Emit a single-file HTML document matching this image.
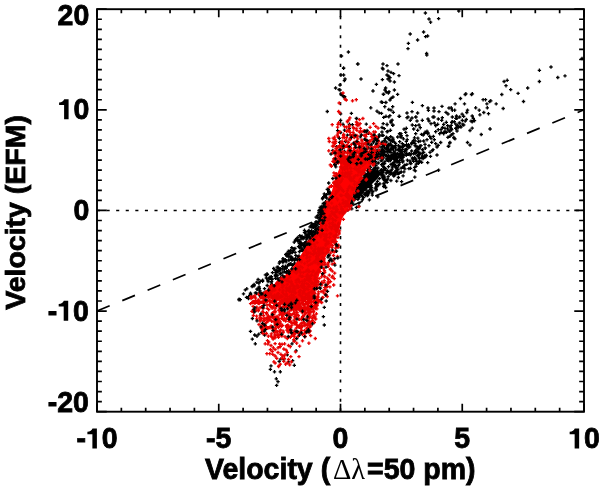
<!DOCTYPE html>
<html><head><meta charset="utf-8"><style>
html,body{margin:0;padding:0;background:#fff;width:600px;height:488px;overflow:hidden}
svg{display:block;will-change:transform}
text{font-family:"Liberation Sans",sans-serif;font-weight:bold;fill:#000;stroke:#000;stroke-width:0.8px}
</style></head><body>
<svg width="600" height="488" viewBox="0 0 600 488">
<rect width="600" height="488" fill="#fff"/>
<line x1="97.0" y1="311.07" x2="584.0" y2="109.83" stroke="#000" stroke-width="1.7" stroke-dasharray="13.7 13.67"/>
<line x1="97.0" y1="210.45" x2="584.0" y2="210.45" stroke="#000" stroke-width="1.6" stroke-dasharray="3.1 6.477"/>
<line x1="340.50" y1="411.7" x2="340.50" y2="9.2" stroke="#000" stroke-width="1.6" stroke-dasharray="3.1 6.465" stroke-dashoffset="-0.4"/>
<path d="M351.0 203.0L353.0 196.0L357.0 186.0L362.0 178.0L368.0 172.0L376.0 170.0L382.0 172.0L378.0 178.0L371.0 185.0L362.0 194.0L355.0 199.0Z" fill="#000"/>
<path d="M423.7 13.0h3.4M425.4 11.3v3.4M427.3 19.0h3.4M429.0 17.3v3.4M428.9 22.2h3.4M430.6 20.5v3.4M436.9 18.6h3.4M438.6 16.9v3.4M408.5 34.0h3.4M410.2 32.3v3.4M421.9 32.0h3.4M423.6 30.3v3.4M423.9 36.6h3.4M425.6 34.9v3.4M425.9 36.0h3.4M427.6 34.3v3.4M415.9 40.0h3.4M417.6 38.3v3.4M406.7 43.4h3.4M408.4 41.7v3.4M406.3 48.6h3.4M408.0 46.9v3.4M424.9 53.4h3.4M426.6 51.7v3.4M425.1 55.0h3.4M426.8 53.3v3.4M346.7 52.0h3.4M348.4 50.3v3.4M339.8 56.0h3.4M341.5 54.3v3.4M356.3 64.0h3.4M358.0 62.3v3.4M381.3 64.0h3.4M383.0 62.3v3.4M385.3 65.6h3.4M387.0 63.9v3.4M380.7 68.2h3.4M382.4 66.5v3.4M396.3 64.0h3.4M398.0 62.3v3.4M341.9 68.0h3.4M343.6 66.3v3.4M457.1 11.0h3.4M458.8 9.3v3.4M341.9 68.4h3.4M343.6 66.7v3.4M355.9 64.0h3.4M357.6 62.3v3.4M339.3 75.0h3.4M341.0 73.3v3.4M341.9 75.0h3.4M343.6 73.3v3.4M343.3 79.0h3.4M345.0 77.3v3.4M342.7 80.6h3.4M344.4 78.9v3.4M359.3 79.0h3.4M361.0 77.3v3.4M338.3 85.0h3.4M340.0 83.3v3.4M333.9 88.0h3.4M335.6 86.3v3.4M337.3 89.6h3.4M339.0 87.9v3.4M339.3 94.0h3.4M341.0 92.3v3.4M340.7 95.6h3.4M342.4 93.9v3.4M342.7 97.6h3.4M344.4 95.9v3.4M371.3 91.0h3.4M373.0 89.3v3.4M374.7 84.4h3.4M376.4 82.7v3.4M381.3 69.0h3.4M383.0 67.3v3.4M386.3 71.0h3.4M388.0 69.3v3.4M389.3 72.4h3.4M391.0 70.7v3.4M391.9 73.6h3.4M393.6 71.9v3.4M385.3 75.0h3.4M387.0 73.3v3.4M387.3 76.4h3.4M389.0 74.7v3.4M388.3 77.6h3.4M390.0 75.9v3.4M386.3 79.0h3.4M388.0 77.3v3.4M397.3 75.6h3.4M399.0 73.9v3.4M380.7 79.6h3.4M382.4 77.9v3.4M388.3 81.0h3.4M390.0 79.3v3.4M392.7 82.0h3.4M394.4 80.3v3.4M383.9 88.0h3.4M385.6 86.3v3.4M383.3 90.0h3.4M385.0 88.3v3.4M387.3 91.6h3.4M389.0 89.9v3.4M386.7 93.0h3.4M388.4 91.3v3.4M392.7 90.0h3.4M394.4 88.3v3.4M395.9 94.4h3.4M397.6 92.7v3.4M381.9 94.4h3.4M383.6 92.7v3.4M391.3 97.0h3.4M393.0 95.3v3.4M389.3 98.4h3.4M391.0 96.7v3.4M388.3 100.0h3.4M390.0 98.3v3.4M380.7 102.4h3.4M382.4 100.7v3.4M384.3 102.4h3.4M386.0 100.7v3.4M410.7 102.4h3.4M412.4 100.7v3.4M420.7 105.6h3.4M422.4 103.9v3.4M426.3 108.0h3.4M428.0 106.3v3.4M426.7 110.4h3.4M428.4 108.7v3.4M432.3 108.0h3.4M434.0 106.3v3.4M432.3 111.0h3.4M434.0 109.3v3.4M440.3 106.4h3.4M442.0 104.7v3.4M447.3 108.0h3.4M449.0 106.3v3.4M405.3 113.0h3.4M407.0 111.3v3.4M410.3 111.6h3.4M412.0 109.9v3.4M415.9 113.0h3.4M417.6 111.3v3.4M437.3 111.6h3.4M439.0 109.9v3.4M444.3 112.4h3.4M446.0 110.7v3.4M446.3 114.0h3.4M448.0 112.3v3.4M406.3 117.0h3.4M408.0 115.3v3.4M410.3 118.0h3.4M412.0 116.3v3.4M414.3 117.0h3.4M416.0 115.3v3.4M426.3 119.0h3.4M428.0 117.3v3.4M432.3 117.0h3.4M434.0 115.3v3.4M549.3 67.0h3.4M551.0 65.3v3.4M537.7 70.3h3.4M539.4 68.6v3.4M556.1 77.5h3.4M557.8 75.8v3.4M563.3 75.9h3.4M565.0 74.2v3.4M537.7 81.5h3.4M539.4 79.8v3.4M502.4 81.5h3.4M504.1 79.8v3.4M505.5 80.3h3.4M507.2 78.6v3.4M504.3 85.7h3.4M506.0 84.0v3.4M509.0 89.6h3.4M510.7 87.9v3.4M526.0 88.0h3.4M527.7 86.3v3.4M516.4 93.4h3.4M518.1 91.7v3.4M500.1 94.5h3.4M501.8 92.8v3.4M521.8 101.5h3.4M523.5 99.8v3.4M501.5 108.5h3.4M503.2 106.8v3.4M494.5 103.9h3.4M496.2 102.2v3.4M489.1 100.8h3.4M490.8 99.1v3.4M488.0 101.5h3.4M489.7 99.8v3.4M481.4 99.7h3.4M483.1 98.0v3.4M483.8 99.7h3.4M485.5 98.0v3.4M485.2 103.9h3.4M486.9 102.2v3.4M485.6 107.8h3.4M487.3 106.1v3.4M486.8 113.7h3.4M488.5 112.0v3.4M482.1 112.5h3.4M483.8 110.8v3.4M477.5 110.2h3.4M479.2 108.5v3.4M478.2 114.8h3.4M479.9 113.1v3.4M474.0 107.8h3.4M475.7 106.1v3.4M469.8 94.5h3.4M471.5 92.8v3.4M470.7 93.8h3.4M472.4 92.1v3.4M463.5 94.5h3.4M465.2 92.8v3.4M464.2 93.8h3.4M465.9 92.1v3.4M458.8 98.5h3.4M460.5 96.8v3.4M462.8 103.9h3.4M464.5 102.2v3.4M453.4 103.9h3.4M455.1 102.2v3.4M449.5 107.8h3.4M451.2 106.1v3.4M453.0 110.2h3.4M454.7 108.5v3.4M450.6 110.2h3.4M452.3 108.5v3.4M460.4 114.1h3.4M462.1 112.4v3.4M465.8 110.2h3.4M467.5 108.5v3.4M465.1 112.5h3.4M466.8 110.8v3.4M454.8 116.0h3.4M456.5 114.3v3.4M454.1 118.3h3.4M455.8 116.6v3.4M470.5 116.0h3.4M472.2 114.3v3.4M471.6 118.3h3.4M473.3 116.6v3.4M472.8 120.7h3.4M474.5 119.0v3.4M469.3 121.1h3.4M471.0 119.4v3.4M470.5 121.8h3.4M472.2 120.1v3.4M464.6 119.5h3.4M466.3 117.8v3.4M463.5 121.1h3.4M465.2 119.4v3.4M457.6 123.0h3.4M459.3 121.3v3.4M461.1 124.2h3.4M462.8 122.5v3.4M458.8 126.5h3.4M460.5 124.8v3.4M456.5 127.7h3.4M458.2 126.0v3.4M450.6 121.8h3.4M452.3 120.1v3.4M449.5 125.3h3.4M451.2 123.6v3.4M454.1 124.2h3.4M455.8 122.5v3.4M454.8 127.7h3.4M456.5 126.0v3.4M470.5 128.1h3.4M472.2 126.4v3.4M488.4 129.1h3.4M490.1 127.4v3.4M580.3 58.5h3.4M582.0 56.8v3.4M479.6 134.5h3.4M481.2 132.8v3.4M465.8 142.5h3.4M467.5 140.8v3.4M468.3 145.0h3.4M470.0 143.3v3.4M448.3 142.5h3.4M450.0 140.8v3.4M447.1 146.2h3.4M448.8 144.6v3.4M449.6 135.0h3.4M451.2 133.3v3.4M452.1 137.5h3.4M453.8 135.8v3.4M453.3 138.8h3.4M455.0 137.1v3.4M488.3 128.8h3.4M490.0 127.0v3.4M468.3 130.5h3.4M470.0 128.8v3.4M443.3 131.2h3.4M445.0 129.6v3.4M439.6 132.5h3.4M441.2 130.8v3.4M442.1 132.5h3.4M443.8 130.8v3.4M445.8 128.8h3.4M447.5 127.0v3.4M448.3 131.2h3.4M450.0 129.6v3.4M440.8 127.5h3.4M442.5 125.8v3.4M338.3 90.0h3.4M340.0 88.3v3.4M340.3 94.2h3.4M342.0 92.5v3.4M343.0 96.7h3.4M344.7 95.0v3.4M371.3 90.8h3.4M373.0 89.1v3.4M381.6 94.2h3.4M383.3 92.5v3.4M384.6 92.0h3.4M386.3 90.3v3.4M379.6 102.0h3.4M381.3 100.3v3.4M384.1 102.5h3.4M385.8 100.8v3.4M250.7 318.5h3.4M252.4 316.8v3.4M248.8 331.4h3.4M250.5 329.7v3.4M257.1 334.1h3.4M258.8 332.4v3.4M259.9 332.3h3.4M261.6 330.6v3.4M261.8 330.4h3.4M263.5 328.7v3.4M322.6 325.0h3.4M324.3 323.3v3.4M321.7 316.6h3.4M323.4 314.9v3.4M324.5 301.0h3.4M326.2 299.3v3.4M322.6 307.4h3.4M324.3 305.7v3.4M385.3 124.3h3.4M387.0 122.6v3.4M389.3 121.0h3.4M391.0 119.3v3.4M391.3 125.0h3.4M393.0 123.3v3.4M388.6 130.3h3.4M390.3 128.6v3.4M385.3 131.7h3.4M387.0 130.0v3.4M397.3 116.3h3.4M399.0 114.6v3.4M405.3 117.7h3.4M407.0 116.0v3.4M408.6 120.3h3.4M410.3 118.6v3.4M414.0 117.0h3.4M415.7 115.3v3.4M415.3 121.0h3.4M417.0 119.3v3.4M410.6 125.0h3.4M412.3 123.3v3.4M414.0 125.7h3.4M415.7 124.0v3.4M417.3 125.0h3.4M419.0 123.3v3.4M418.6 127.7h3.4M420.3 126.0v3.4M420.6 120.3h3.4M422.3 118.6v3.4M412.0 129.0h3.4M413.7 127.3v3.4M416.0 130.3h3.4M417.7 128.6v3.4M414.0 133.7h3.4M415.7 132.0v3.4M404.6 128.3h3.4M406.3 126.6v3.4M404.0 132.3h3.4M405.7 130.6v3.4M405.3 135.7h3.4M407.0 134.0v3.4M399.3 133.7h3.4M401.0 132.0v3.4M396.0 137.0h3.4M397.7 135.3v3.4M391.3 139.7h3.4M393.0 138.0v3.4M387.3 139.7h3.4M389.0 138.0v3.4M423.3 132.3h3.4M425.0 130.6v3.4M426.0 133.7h3.4M427.7 132.0v3.4M428.0 136.3h3.4M429.7 134.6v3.4M429.3 138.3h3.4M431.0 136.6v3.4M425.3 139.7h3.4M427.0 138.0v3.4M422.0 141.0h3.4M423.7 139.3v3.4M430.0 142.3h3.4M431.7 140.6v3.4M432.6 139.7h3.4M434.3 138.0v3.4M434.0 143.7h3.4M435.7 142.0v3.4M435.3 147.0h3.4M437.0 145.3v3.4M431.3 149.7h3.4M433.0 148.0v3.4M427.3 145.7h3.4M429.0 144.0v3.4M423.3 144.3h3.4M425.0 142.6v3.4M419.3 145.7h3.4M421.0 144.0v3.4M416.0 147.0h3.4M417.7 145.3v3.4M413.3 143.7h3.4M415.0 142.0v3.4M410.0 143.0h3.4M411.7 141.3v3.4M408.0 147.0h3.4M409.7 145.3v3.4M404.6 145.7h3.4M406.3 144.0v3.4M400.6 143.7h3.4M402.3 142.0v3.4M398.0 141.7h3.4M399.7 140.0v3.4M394.0 145.7h3.4M395.7 144.0v3.4M391.3 148.3h3.4M393.0 146.6v3.4M388.6 149.7h3.4M390.3 148.0v3.4M427.3 121.0h3.4M429.0 119.3v3.4M429.3 123.7h3.4M431.0 122.0v3.4M432.6 123.0h3.4M434.3 121.3v3.4M434.0 125.7h3.4M435.7 124.0v3.4M436.6 119.0h3.4M438.3 117.3v3.4M440.6 117.7h3.4M442.3 116.0v3.4M440.0 120.3h3.4M441.7 118.6v3.4M442.0 124.3h3.4M443.7 122.6v3.4M444.6 122.3h3.4M446.3 120.6v3.4M446.0 125.7h3.4M447.7 124.0v3.4M448.6 127.0h3.4M450.3 125.3v3.4M443.3 128.3h3.4M445.0 126.6v3.4M439.3 129.7h3.4M441.0 128.0v3.4M436.6 129.7h3.4M438.3 128.0v3.4M434.0 131.7h3.4M435.7 130.0v3.4M438.0 133.7h3.4M439.7 132.0v3.4M442.0 133.7h3.4M443.7 132.0v3.4M444.6 132.3h3.4M446.3 130.6v3.4M447.3 131.0h3.4M449.0 129.3v3.4M450.0 129.7h3.4M451.7 128.0v3.4M451.3 133.7h3.4M453.0 132.0v3.4M454.0 128.3h3.4M455.7 126.6v3.4M456.0 125.7h3.4M457.7 124.0v3.4M458.0 123.0h3.4M459.7 121.3v3.4M460.6 120.3h3.4M462.3 118.6v3.4M462.0 125.0h3.4M463.7 123.3v3.4M459.3 127.0h3.4M461.0 125.3v3.4M455.3 131.0h3.4M457.0 129.3v3.4M452.6 138.3h3.4M454.3 136.6v3.4M448.0 143.0h3.4M449.7 141.3v3.4M446.6 146.3h3.4M448.3 144.6v3.4M435.3 155.0h3.4M437.0 153.3v3.4M422.0 152.3h3.4M423.7 150.6v3.4M423.3 157.0h3.4M425.0 155.3v3.4M418.0 161.0h3.4M419.7 159.3v3.4M414.0 159.0h3.4M415.7 157.3v3.4M420.6 153.7h3.4M422.3 152.0v3.4M416.6 152.3h3.4M418.3 150.6v3.4M412.0 153.7h3.4M413.7 152.0v3.4M408.6 155.0h3.4M410.3 153.3v3.4M404.6 153.7h3.4M406.3 152.0v3.4M402.0 155.0h3.4M403.7 153.3v3.4M399.3 152.3h3.4M401.0 150.6v3.4M396.6 155.0h3.4M398.3 153.3v3.4M394.0 156.3h3.4M395.7 154.6v3.4M391.3 157.7h3.4M393.0 156.0v3.4M388.6 159.0h3.4M390.3 157.3v3.4M386.0 160.3h3.4M387.7 158.6v3.4M396.6 149.7h3.4M398.3 148.0v3.4M400.6 149.7h3.4M402.3 148.0v3.4M404.6 149.7h3.4M406.3 148.0v3.4M410.0 151.0h3.4M411.7 149.3v3.4M414.0 150.3h3.4M415.7 148.6v3.4M431.3 117.0h3.4M433.0 115.3v3.4M436.0 124.3h3.4M437.7 122.6v3.4M450.6 117.0h3.4M452.3 115.3v3.4M455.3 118.3h3.4M457.0 116.6v3.4M458.0 117.0h3.4M459.7 115.3v3.4M462.0 116.3h3.4M463.7 114.6v3.4M450.0 122.3h3.4M451.7 120.6v3.4M452.6 121.7h3.4M454.3 120.0v3.4M250.6 339.1h3.4M252.3 337.4v3.4M253.6 343.8h3.4M255.3 342.1v3.4M255.3 336.2h3.4M257.0 334.5v3.4M253.0 335.0h3.4M254.7 333.3v3.4M262.9 335.0h3.4M264.6 333.3v3.4M295.0 338.5h3.4M296.7 336.8v3.4M292.6 340.8h3.4M294.3 339.1v3.4M290.3 343.8h3.4M292.0 342.1v3.4M294.4 350.8h3.4M296.1 349.1v3.4M285.6 354.8h3.4M287.3 353.1v3.4M282.1 359.5h3.4M283.8 357.8v3.4M279.2 358.9h3.4M280.9 357.2v3.4M277.5 361.3h3.4M279.2 359.6v3.4M286.8 361.8h3.4M288.5 360.1v3.4M290.9 360.7h3.4M292.6 359.0v3.4M292.6 365.3h3.4M294.3 363.6v3.4M269.3 365.9h3.4M271.0 364.2v3.4M268.7 369.4h3.4M270.4 367.7v3.4M272.8 371.8h3.4M274.5 370.1v3.4M278.6 371.8h3.4M280.3 370.1v3.4M274.6 378.8h3.4M276.3 377.1v3.4M276.3 381.7h3.4M278.0 380.0v3.4M274.9 385.4h3.4M276.6 383.7v3.4M369.1 107.8h3.4M370.8 106.1v3.4M375.3 111.2h3.4M377.0 109.5v3.4M377.5 112.9h3.4M379.2 111.2v3.4M379.8 113.4h3.4M381.5 111.7v3.4M383.1 106.7h3.4M384.8 105.0v3.4M387.1 109.5h3.4M388.8 107.8v3.4M389.3 110.1h3.4M391.0 108.4v3.4M391.0 106.7h3.4M392.7 105.0v3.4M391.6 112.3h3.4M393.3 110.6v3.4M382.0 117.4h3.4M383.7 115.7v3.4M384.3 116.3h3.4M386.0 114.6v3.4M387.1 116.8h3.4M388.8 115.1v3.4M388.2 115.7h3.4M389.9 114.0v3.4M397.8 116.3h3.4M399.5 114.6v3.4M390.5 120.2h3.4M392.2 118.5v3.4M389.3 122.5h3.4M391.0 120.8v3.4M381.5 123.6h3.4M383.2 121.9v3.4M385.4 124.7h3.4M387.1 123.0v3.4M391.0 125.3h3.4M392.7 123.6v3.4M380.3 127.5h3.4M382.0 125.8v3.4M382.6 128.6h3.4M384.3 126.9v3.4M388.8 130.3h3.4M390.5 128.6v3.4M386.0 131.5h3.4M387.7 129.8v3.4M380.3 132.0h3.4M382.0 130.3v3.4M381.5 135.4h3.4M383.2 133.7v3.4M384.8 137.1h3.4M386.5 135.4v3.4M387.1 138.8h3.4M388.8 137.1v3.4M390.5 141.0h3.4M392.2 139.3v3.4M392.7 142.2h3.4M394.4 140.5v3.4M397.8 133.7h3.4M399.5 132.0v3.4M399.5 137.1h3.4M401.2 135.4v3.4M402.3 129.2h3.4M404.0 127.5v3.4M401.7 138.8h3.4M403.4 137.1v3.4M355.0 118.5h3.4M356.7 116.8v3.4M364.6 124.1h3.4M366.3 122.4v3.4M366.8 133.2h3.4M368.5 131.5v3.4M373.0 138.2h3.4M374.7 136.5v3.4M375.8 138.8h3.4M377.5 137.1v3.4M371.9 142.2h3.4M373.6 140.5v3.4M374.7 144.4h3.4M376.4 142.7v3.4M376.9 146.7h3.4M378.6 145.0v3.4M369.1 145.5h3.4M370.8 143.8v3.4M366.8 147.8h3.4M368.5 146.1v3.4M364.6 149.5h3.4M366.3 147.8v3.4M361.7 151.2h3.4M363.4 149.5v3.4M358.9 150.0h3.4M360.6 148.3v3.4M380.3 142.2h3.4M382.0 140.5v3.4M382.6 145.5h3.4M384.3 143.8v3.4M384.8 147.8h3.4M386.5 146.1v3.4M387.1 150.0h3.4M388.8 148.3v3.4M389.3 152.3h3.4M391.0 150.6v3.4M392.7 154.5h3.4M394.4 152.8v3.4M396.1 153.4h3.4M397.8 151.7v3.4M398.3 150.0h3.4M400.0 148.3v3.4M400.6 147.8h3.4M402.3 146.1v3.4M402.8 145.5h3.4M404.5 143.8v3.4M393.8 147.8h3.4M395.5 146.1v3.4M391.6 146.7h3.4M393.3 145.0v3.4M381.5 152.3h3.4M383.2 150.6v3.4M383.7 155.7h3.4M385.4 154.0v3.4M379.2 154.5h3.4M380.9 152.8v3.4M375.8 154.5h3.4M377.5 152.8v3.4M372.4 153.4h3.4M374.1 151.7v3.4M370.2 152.3h3.4M371.9 150.6v3.4M367.9 155.7h3.4M369.6 154.0v3.4M364.6 156.8h3.4M366.3 155.1v3.4M400.6 154.5h3.4M402.3 152.8v3.4M398.3 157.9h3.4M400.0 156.2v3.4M393.8 157.9h3.4M395.5 156.2v3.4M387.1 156.8h3.4M388.8 155.1v3.4M384.8 159.1h3.4M386.5 157.4v3.4M325.6 111.5h3.4M327.3 109.8v3.4M338.9 113.9h3.4M340.6 112.2v3.4M349.7 113.4h3.4M351.4 111.7v3.4M354.6 118.4h3.4M356.3 116.7v3.4M338.9 120.3h3.4M340.6 118.6v3.4M341.3 124.3h3.4M343.0 122.6v3.4M347.7 124.3h3.4M349.4 122.6v3.4M350.7 124.7h3.4M352.4 123.0v3.4M342.8 130.2h3.4M344.5 128.5v3.4M335.9 130.6h3.4M337.6 128.9v3.4M338.9 132.6h3.4M340.6 130.9v3.4M345.7 135.1h3.4M347.4 133.4v3.4M337.9 142.4h3.4M339.6 140.7v3.4M343.8 141.5h3.4M345.5 139.8v3.4M346.7 142.4h3.4M348.4 140.7v3.4M338.9 146.4h3.4M340.6 144.7v3.4M340.8 148.3h3.4M342.5 146.6v3.4M339.8 152.3h3.4M341.5 150.6v3.4M337.9 154.2h3.4M339.6 152.5v3.4M342.8 151.3h3.4M344.5 149.6v3.4M347.7 149.3h3.4M349.4 147.6v3.4M348.7 134.6h3.4M350.4 132.9v3.4M347.7 128.7h3.4M349.4 127.0v3.4M359.2 187.8h3.4M360.9 186.1v3.4M366.2 170.9h3.4M367.9 169.2v3.4M381.8 169.4h3.4M383.5 167.7v3.4M364.2 179.3h3.4M365.9 177.6v3.4M385.2 149.3h3.4M386.9 147.6v3.4M381.7 157.8h3.4M383.4 156.1v3.4M386.1 179.2h3.4M387.8 177.5v3.4M384.5 173.2h3.4M386.2 171.5v3.4M361.3 190.1h3.4M363.0 188.4v3.4M356.2 199.4h3.4M357.9 197.7v3.4M372.7 156.0h3.4M374.4 154.3v3.4M397.8 162.3h3.4M399.5 160.6v3.4M388.6 160.6h3.4M390.3 158.9v3.4M385.5 170.5h3.4M387.2 168.8v3.4M393.9 159.3h3.4M395.6 157.6v3.4M374.3 190.1h3.4M376.0 188.4v3.4M368.3 187.7h3.4M370.0 186.0v3.4M352.3 193.8h3.4M354.0 192.1v3.4M414.2 146.1h3.4M415.9 144.4v3.4M393.2 159.7h3.4M394.9 158.0v3.4M379.2 160.9h3.4M380.9 159.2v3.4M360.6 199.8h3.4M362.3 198.1v3.4M399.9 152.7h3.4M401.6 151.0v3.4M356.2 166.2h3.4M357.9 164.5v3.4M373.3 172.8h3.4M375.0 171.1v3.4M381.8 179.2h3.4M383.5 177.5v3.4M372.9 153.4h3.4M374.6 151.7v3.4M387.0 146.0h3.4M388.7 144.3v3.4M370.3 179.1h3.4M372.0 177.4v3.4M393.2 171.8h3.4M394.9 170.1v3.4M371.4 179.8h3.4M373.1 178.1v3.4M386.6 155.1h3.4M388.3 153.4v3.4M408.3 161.0h3.4M410.0 159.3v3.4M386.0 158.3h3.4M387.7 156.6v3.4M356.8 197.1h3.4M358.5 195.4v3.4M391.6 173.7h3.4M393.3 172.0v3.4M386.2 158.8h3.4M387.9 157.1v3.4M386.8 166.7h3.4M388.5 165.0v3.4M392.3 159.3h3.4M394.0 157.6v3.4M420.0 162.3h3.4M421.7 160.6v3.4M376.6 162.9h3.4M378.3 161.2v3.4M378.3 155.7h3.4M380.0 154.0v3.4M361.6 186.4h3.4M363.3 184.7v3.4M394.5 167.6h3.4M396.2 165.9v3.4M382.9 163.6h3.4M384.6 161.9v3.4M393.6 167.0h3.4M395.3 165.3v3.4M366.8 176.3h3.4M368.5 174.6v3.4M396.7 177.5h3.4M398.4 175.8v3.4M397.4 173.3h3.4M399.1 171.6v3.4M355.4 192.9h3.4M357.1 191.2v3.4M412.9 157.6h3.4M414.6 155.9v3.4M419.9 157.9h3.4M421.6 156.2v3.4M361.8 197.7h3.4M363.5 196.0v3.4M355.7 187.4h3.4M357.4 185.7v3.4M393.2 152.9h3.4M394.9 151.2v3.4M367.2 179.5h3.4M368.9 177.8v3.4M395.1 157.0h3.4M396.8 155.3v3.4M356.1 192.4h3.4M357.8 190.7v3.4M342.0 193.6h3.4M343.7 191.9v3.4M369.8 171.4h3.4M371.5 169.7v3.4M367.9 177.9h3.4M369.6 176.2v3.4M396.6 157.1h3.4M398.3 155.4v3.4M412.5 158.4h3.4M414.2 156.7v3.4M367.5 166.0h3.4M369.2 164.3v3.4M420.4 153.5h3.4M422.1 151.8v3.4M397.7 160.6h3.4M399.4 158.9v3.4M413.0 152.4h3.4M414.7 150.7v3.4M368.7 170.2h3.4M370.4 168.5v3.4M353.3 198.2h3.4M355.0 196.5v3.4M390.7 155.7h3.4M392.4 154.0v3.4M361.8 167.8h3.4M363.5 166.1v3.4M380.8 172.6h3.4M382.5 170.9v3.4M373.7 158.7h3.4M375.4 157.0v3.4M415.5 155.5h3.4M417.2 153.8v3.4M372.9 170.1h3.4M374.6 168.4v3.4M392.2 153.5h3.4M393.9 151.8v3.4M366.2 194.3h3.4M367.9 192.6v3.4M345.5 202.6h3.4M347.2 200.9v3.4M363.3 173.7h3.4M365.0 172.0v3.4M366.8 176.3h3.4M368.5 174.6v3.4M396.0 173.0h3.4M397.7 171.3v3.4M373.2 158.4h3.4M374.9 156.7v3.4M401.0 162.1h3.4M402.7 160.4v3.4M386.5 176.7h3.4M388.2 175.0v3.4M388.2 171.1h3.4M389.9 169.4v3.4M398.2 153.8h3.4M399.9 152.1v3.4M375.0 183.9h3.4M376.7 182.2v3.4M408.8 168.3h3.4M410.5 166.6v3.4M388.7 172.8h3.4M390.4 171.1v3.4M373.8 163.1h3.4M375.5 161.4v3.4M374.3 176.4h3.4M376.0 174.7v3.4M349.8 203.2h3.4M351.5 201.5v3.4M354.7 207.3h3.4M356.4 205.6v3.4M379.8 164.7h3.4M381.5 163.0v3.4M405.2 164.4h3.4M406.9 162.7v3.4M385.1 149.0h3.4M386.8 147.3v3.4M383.3 161.6h3.4M385.0 159.9v3.4M400.6 156.5h3.4M402.3 154.8v3.4M387.3 151.5h3.4M389.0 149.8v3.4M396.8 165.7h3.4M398.5 164.0v3.4M375.1 175.8h3.4M376.8 174.1v3.4M411.8 159.6h3.4M413.5 157.9v3.4M357.6 194.5h3.4M359.3 192.8v3.4M394.1 159.4h3.4M395.8 157.7v3.4M360.3 154.5h3.4M362.0 152.8v3.4M353.9 194.7h3.4M355.6 193.0v3.4M408.7 163.6h3.4M410.4 161.9v3.4M393.8 165.5h3.4M395.5 163.8v3.4M364.5 178.9h3.4M366.2 177.2v3.4M398.2 146.5h3.4M399.9 144.8v3.4M357.7 171.3h3.4M359.4 169.6v3.4M376.3 158.8h3.4M378.0 157.1v3.4M390.6 163.7h3.4M392.3 162.0v3.4M389.5 170.9h3.4M391.2 169.2v3.4M393.5 159.9h3.4M395.2 158.2v3.4M356.5 196.0h3.4M358.2 194.3v3.4M356.7 183.9h3.4M358.4 182.2v3.4M380.5 170.5h3.4M382.2 168.8v3.4M389.8 158.6h3.4M391.5 156.9v3.4M398.0 156.9h3.4M399.7 155.2v3.4M375.1 186.6h3.4M376.8 184.9v3.4M381.7 178.6h3.4M383.4 176.9v3.4M369.7 187.4h3.4M371.4 185.7v3.4M373.7 167.9h3.4M375.4 166.2v3.4M390.2 173.7h3.4M391.9 172.0v3.4M401.3 160.8h3.4M403.0 159.1v3.4M392.6 174.0h3.4M394.3 172.3v3.4M365.5 175.6h3.4M367.2 173.9v3.4M379.9 156.8h3.4M381.6 155.1v3.4M372.9 161.3h3.4M374.6 159.6v3.4M402.1 167.7h3.4M403.8 166.0v3.4M367.4 174.9h3.4M369.1 173.2v3.4M415.3 161.5h3.4M417.0 159.8v3.4M382.4 183.1h3.4M384.1 181.4v3.4M380.9 149.2h3.4M382.6 147.5v3.4M367.7 158.0h3.4M369.4 156.3v3.4M414.3 166.3h3.4M416.0 164.6v3.4M379.7 172.3h3.4M381.4 170.6v3.4M361.2 155.8h3.4M362.9 154.1v3.4M398.1 150.5h3.4M399.8 148.8v3.4M373.3 167.3h3.4M375.0 165.6v3.4M362.3 174.2h3.4M364.0 172.5v3.4M357.2 206.2h3.4M358.9 204.5v3.4M366.8 172.2h3.4M368.5 170.5v3.4M377.6 178.6h3.4M379.3 176.9v3.4M351.0 198.6h3.4M352.7 196.9v3.4M368.2 162.1h3.4M369.9 160.4v3.4M399.3 151.6h3.4M401.0 149.9v3.4M396.0 157.8h3.4M397.7 156.1v3.4M370.3 161.0h3.4M372.0 159.3v3.4M362.2 182.2h3.4M363.9 180.5v3.4M379.3 155.0h3.4M381.0 153.3v3.4M364.6 175.9h3.4M366.3 174.2v3.4M355.4 181.4h3.4M357.1 179.7v3.4M353.6 178.1h3.4M355.3 176.4v3.4M380.9 163.9h3.4M382.6 162.2v3.4M355.4 186.9h3.4M357.1 185.2v3.4M394.1 150.1h3.4M395.8 148.4v3.4M395.2 162.1h3.4M396.9 160.4v3.4M391.3 154.1h3.4M393.0 152.4v3.4M402.8 165.7h3.4M404.5 164.0v3.4M377.5 156.0h3.4M379.2 154.3v3.4M408.6 162.9h3.4M410.3 161.2v3.4M350.6 198.5h3.4M352.3 196.8v3.4M355.4 189.4h3.4M357.1 187.7v3.4M364.2 189.8h3.4M365.9 188.1v3.4M417.7 154.2h3.4M419.4 152.5v3.4M375.8 170.9h3.4M377.5 169.2v3.4M358.1 189.0h3.4M359.8 187.3v3.4M363.2 194.5h3.4M364.9 192.8v3.4M409.4 154.0h3.4M411.1 152.3v3.4M367.4 182.7h3.4M369.1 181.0v3.4M373.5 188.1h3.4M375.2 186.4v3.4M405.7 160.2h3.4M407.4 158.5v3.4M357.3 203.1h3.4M359.0 201.4v3.4M365.1 178.4h3.4M366.8 176.7v3.4M366.7 191.1h3.4M368.4 189.4v3.4M358.7 176.8h3.4M360.4 175.1v3.4M354.4 186.9h3.4M356.1 185.2v3.4M385.4 182.4h3.4M387.1 180.7v3.4M349.9 194.6h3.4M351.6 192.9v3.4M382.4 176.2h3.4M384.1 174.5v3.4M393.6 154.6h3.4M395.3 152.9v3.4M380.4 177.2h3.4M382.1 175.5v3.4M368.0 166.8h3.4M369.7 165.1v3.4M374.8 186.3h3.4M376.5 184.6v3.4M391.1 157.9h3.4M392.8 156.2v3.4M392.2 162.5h3.4M393.9 160.8v3.4M393.1 174.8h3.4M394.8 173.1v3.4M356.7 194.7h3.4M358.4 193.0v3.4M392.5 164.1h3.4M394.2 162.4v3.4M390.3 156.7h3.4M392.0 155.0v3.4M382.0 186.5h3.4M383.7 184.8v3.4M387.0 160.9h3.4M388.7 159.2v3.4M349.1 202.7h3.4M350.8 201.0v3.4M367.2 177.0h3.4M368.9 175.3v3.4M399.8 159.2h3.4M401.5 157.5v3.4M385.5 152.2h3.4M387.2 150.5v3.4M392.9 175.2h3.4M394.6 173.5v3.4M364.4 184.4h3.4M366.1 182.7v3.4M369.1 160.6h3.4M370.8 158.9v3.4M376.1 196.8h3.4M377.8 195.1v3.4M367.2 175.0h3.4M368.9 173.3v3.4M404.5 155.3h3.4M406.2 153.6v3.4M382.5 179.9h3.4M384.2 178.2v3.4M350.5 191.6h3.4M352.2 189.9v3.4M403.0 165.1h3.4M404.7 163.4v3.4M395.2 169.2h3.4M396.9 167.5v3.4M391.2 155.0h3.4M392.9 153.3v3.4M401.4 175.9h3.4M403.1 174.2v3.4M411.1 159.2h3.4M412.8 157.5v3.4M380.4 160.2h3.4M382.1 158.5v3.4M373.0 178.8h3.4M374.7 177.1v3.4M382.1 167.5h3.4M383.8 165.8v3.4M380.0 152.8h3.4M381.7 151.1v3.4M359.7 189.2h3.4M361.4 187.5v3.4M360.0 195.4h3.4M361.7 193.7v3.4M364.1 195.6h3.4M365.8 193.9v3.4M366.6 193.0h3.4M368.3 191.3v3.4M365.9 195.6h3.4M367.6 193.9v3.4M397.5 164.2h3.4M399.2 162.5v3.4M392.1 176.0h3.4M393.8 174.3v3.4M395.0 181.1h3.4M396.7 179.4v3.4M393.2 156.1h3.4M394.9 154.4v3.4M394.2 155.2h3.4M395.9 153.5v3.4M389.5 156.2h3.4M391.2 154.5v3.4M345.4 210.0h3.4M347.1 208.3v3.4M369.3 188.1h3.4M371.0 186.4v3.4M404.2 151.1h3.4M405.9 149.4v3.4M397.4 148.5h3.4M399.1 146.8v3.4M367.9 179.0h3.4M369.6 177.3v3.4M369.3 185.5h3.4M371.0 183.8v3.4M389.2 164.4h3.4M390.9 162.7v3.4M347.6 198.1h3.4M349.3 196.4v3.4M402.8 151.6h3.4M404.5 149.9v3.4M380.4 152.0h3.4M382.1 150.3v3.4M354.8 196.5h3.4M356.5 194.8v3.4M417.5 157.9h3.4M419.2 156.2v3.4M361.0 196.7h3.4M362.7 195.0v3.4M356.9 192.4h3.4M358.6 190.7v3.4M392.2 165.3h3.4M393.9 163.6v3.4M385.2 172.1h3.4M386.9 170.4v3.4M352.4 188.4h3.4M354.1 186.7v3.4M376.2 168.0h3.4M377.9 166.3v3.4M396.3 173.6h3.4M398.0 171.9v3.4M357.8 197.0h3.4M359.5 195.3v3.4M403.3 149.8h3.4M405.0 148.1v3.4M382.1 183.9h3.4M383.8 182.2v3.4M388.4 174.3h3.4M390.1 172.6v3.4M378.2 183.8h3.4M379.9 182.1v3.4M343.6 204.8h3.4M345.3 203.1v3.4M388.5 158.2h3.4M390.2 156.5v3.4M399.4 168.1h3.4M401.1 166.4v3.4M422.6 156.5h3.4M424.3 154.8v3.4M381.6 166.3h3.4M383.3 164.6v3.4M365.3 167.4h3.4M367.0 165.7v3.4M365.0 181.6h3.4M366.7 179.9v3.4M394.3 158.5h3.4M396.0 156.8v3.4M413.4 145.7h3.4M415.1 144.0v3.4M373.6 151.5h3.4M375.3 149.8v3.4M370.9 172.2h3.4M372.6 170.5v3.4M396.3 169.5h3.4M398.0 167.8v3.4M354.8 180.3h3.4M356.5 178.6v3.4M365.3 181.8h3.4M367.0 180.1v3.4M350.2 203.6h3.4M351.9 201.9v3.4M378.2 150.4h3.4M379.9 148.7v3.4M357.4 195.3h3.4M359.1 193.6v3.4M381.4 174.9h3.4M383.1 173.2v3.4M367.1 164.0h3.4M368.8 162.3v3.4M374.9 153.0h3.4M376.6 151.3v3.4M351.0 193.6h3.4M352.7 191.9v3.4M358.1 192.4h3.4M359.8 190.7v3.4M382.2 170.3h3.4M383.9 168.6v3.4M393.4 165.4h3.4M395.1 163.7v3.4M367.9 175.7h3.4M369.6 174.0v3.4M413.7 170.9h3.4M415.4 169.2v3.4M413.1 177.1h3.4M414.8 175.4v3.4M388.7 159.9h3.4M390.4 158.2v3.4M374.6 189.1h3.4M376.3 187.4v3.4M390.7 167.0h3.4M392.4 165.3v3.4M376.9 184.8h3.4M378.6 183.1v3.4M354.6 183.8h3.4M356.3 182.1v3.4M386.3 172.2h3.4M388.0 170.5v3.4M381.9 154.6h3.4M383.6 152.9v3.4M367.7 199.9h3.4M369.4 198.2v3.4M366.6 186.4h3.4M368.3 184.7v3.4M394.3 171.1h3.4M396.0 169.4v3.4M368.9 189.4h3.4M370.6 187.7v3.4M372.9 158.0h3.4M374.6 156.3v3.4M399.0 154.3h3.4M400.7 152.6v3.4M365.2 178.0h3.4M366.9 176.3v3.4M346.0 205.5h3.4M347.7 203.8v3.4M349.4 203.8h3.4M351.1 202.1v3.4M389.4 155.6h3.4M391.1 153.9v3.4M418.0 158.4h3.4M419.7 156.7v3.4M393.4 153.5h3.4M395.1 151.8v3.4M381.1 154.9h3.4M382.8 153.2v3.4M392.4 162.2h3.4M394.1 160.5v3.4M356.6 181.1h3.4M358.3 179.4v3.4M368.5 184.9h3.4M370.2 183.2v3.4M393.3 160.1h3.4M395.0 158.4v3.4M379.2 170.6h3.4M380.9 168.9v3.4M374.1 169.0h3.4M375.8 167.3v3.4M392.5 152.8h3.4M394.2 151.1v3.4M369.7 189.8h3.4M371.4 188.1v3.4M376.3 163.0h3.4M378.0 161.3v3.4M395.4 173.2h3.4M397.1 171.5v3.4M364.6 167.6h3.4M366.3 165.9v3.4M417.1 152.2h3.4M418.8 150.5v3.4M366.5 168.5h3.4M368.2 166.8v3.4M420.7 156.0h3.4M422.4 154.3v3.4M382.9 177.9h3.4M384.6 176.2v3.4M397.8 149.8h3.4M399.5 148.1v3.4M382.7 185.3h3.4M384.4 183.6v3.4M384.0 187.5h3.4M385.7 185.8v3.4M362.6 175.9h3.4M364.3 174.2v3.4M390.0 155.1h3.4M391.7 153.4v3.4M365.6 174.5h3.4M367.3 172.8v3.4M421.4 158.6h3.4M423.1 156.9v3.4M374.3 174.7h3.4M376.0 173.0v3.4M409.3 163.6h3.4M411.0 161.9v3.4M404.9 144.6h3.4M406.6 142.9v3.4M371.6 162.2h3.4M373.3 160.5v3.4M351.0 203.1h3.4M352.7 201.4v3.4M374.0 184.2h3.4M375.7 182.5v3.4M390.4 169.2h3.4M392.1 167.5v3.4M386.8 158.5h3.4M388.5 156.8v3.4M350.1 200.8h3.4M351.8 199.1v3.4M395.6 161.2h3.4M397.3 159.5v3.4M360.3 192.3h3.4M362.0 190.6v3.4M354.3 193.5h3.4M356.0 191.8v3.4M389.2 180.5h3.4M390.9 178.8v3.4M406.8 154.3h3.4M408.5 152.6v3.4M370.6 195.1h3.4M372.3 193.4v3.4M354.7 188.9h3.4M356.4 187.2v3.4M381.1 172.3h3.4M382.8 170.6v3.4M386.9 159.1h3.4M388.6 157.4v3.4M402.2 171.9h3.4M403.9 170.2v3.4M384.2 180.4h3.4M385.9 178.7v3.4M364.4 192.7h3.4M366.1 191.0v3.4M379.2 174.5h3.4M380.9 172.8v3.4M365.6 184.6h3.4M367.3 182.9v3.4M370.3 193.1h3.4M372.0 191.4v3.4M371.7 174.1h3.4M373.4 172.4v3.4M379.6 169.7h3.4M381.3 168.0v3.4M400.2 154.4h3.4M401.9 152.7v3.4M397.4 150.4h3.4M399.1 148.7v3.4M411.9 161.4h3.4M413.6 159.7v3.4M413.5 153.3h3.4M415.2 151.6v3.4M400.2 157.0h3.4M401.9 155.3v3.4M368.2 191.1h3.4M369.9 189.4v3.4M399.9 181.7h3.4M401.6 180.0v3.4M391.9 156.1h3.4M393.6 154.4v3.4M395.7 154.0h3.4M397.4 152.3v3.4M359.2 186.5h3.4M360.9 184.8v3.4M381.5 163.7h3.4M383.2 162.0v3.4M343.6 190.4h3.4M345.3 188.7v3.4M362.6 193.9h3.4M364.3 192.2v3.4M373.6 162.8h3.4M375.3 161.1v3.4M383.7 168.4h3.4M385.4 166.7v3.4M401.4 145.8h3.4M403.1 144.1v3.4M370.4 160.4h3.4M372.1 158.7v3.4M381.0 175.2h3.4M382.7 173.5v3.4M384.7 155.6h3.4M386.4 153.9v3.4M358.8 185.0h3.4M360.5 183.3v3.4M371.3 169.5h3.4M373.0 167.8v3.4M350.1 208.8h3.4M351.8 207.1v3.4M349.7 198.0h3.4M351.4 196.3v3.4M372.0 169.3h3.4M373.7 167.6v3.4M411.8 158.7h3.4M413.5 157.0v3.4M392.2 156.4h3.4M393.9 154.7v3.4M365.1 180.7h3.4M366.8 179.0v3.4M414.5 164.2h3.4M416.2 162.5v3.4M395.2 167.6h3.4M396.9 165.9v3.4M407.2 168.6h3.4M408.9 166.9v3.4M398.3 172.4h3.4M400.0 170.7v3.4M358.9 186.6h3.4M360.6 184.9v3.4M375.1 186.0h3.4M376.8 184.3v3.4M379.6 158.1h3.4M381.3 156.4v3.4M360.0 177.9h3.4M361.7 176.2v3.4M399.6 172.0h3.4M401.3 170.3v3.4M400.9 167.2h3.4M402.6 165.5v3.4M355.8 192.6h3.4M357.5 190.9v3.4M375.8 181.3h3.4M377.5 179.6v3.4M355.9 182.8h3.4M357.6 181.1v3.4M346.7 190.1h3.4M348.4 188.4v3.4M407.8 153.7h3.4M409.5 152.0v3.4M403.2 168.8h3.4M404.9 167.1v3.4M366.0 170.7h3.4M367.7 169.0v3.4M400.8 155.7h3.4M402.5 154.0v3.4M369.7 162.5h3.4M371.4 160.8v3.4M368.7 167.3h3.4M370.4 165.6v3.4M352.8 199.8h3.4M354.5 198.1v3.4M384.0 181.1h3.4M385.7 179.4v3.4M377.5 154.8h3.4M379.2 153.1v3.4M401.6 157.1h3.4M403.3 155.4v3.4M385.5 158.7h3.4M387.2 157.0v3.4M374.8 186.8h3.4M376.5 185.1v3.4M371.2 191.5h3.4M372.9 189.8v3.4M366.7 191.6h3.4M368.4 189.9v3.4M406.8 144.6h3.4M408.5 142.9v3.4M431.7 136.4h3.4M433.4 134.7v3.4M426.4 133.0h3.4M428.1 131.3v3.4M417.7 147.9h3.4M419.4 146.2v3.4M416.4 147.9h3.4M418.1 146.2v3.4M436.5 145.4h3.4M438.2 143.7v3.4M411.4 142.4h3.4M413.1 140.7v3.4M424.0 156.5h3.4M425.7 154.8v3.4M419.8 134.4h3.4M421.5 132.7v3.4M418.0 146.3h3.4M419.7 144.6v3.4M412.8 137.8h3.4M414.5 136.1v3.4M421.5 135.0h3.4M423.2 133.3v3.4M422.6 133.6h3.4M424.3 131.9v3.4M449.5 128.5h3.4M451.2 126.8v3.4M439.0 142.5h3.4M440.7 140.8v3.4M417.5 161.3h3.4M419.2 159.6v3.4M416.1 148.7h3.4M417.8 147.0v3.4M407.9 146.5h3.4M409.6 144.8v3.4M417.4 148.5h3.4M419.1 146.8v3.4M418.5 141.1h3.4M420.2 139.4v3.4M410.6 157.9h3.4M412.3 156.2v3.4M415.1 151.7h3.4M416.8 150.0v3.4M416.8 141.5h3.4M418.5 139.8v3.4M448.3 136.2h3.4M450.0 134.5v3.4M425.3 131.2h3.4M427.0 129.5v3.4M446.2 137.3h3.4M447.9 135.6v3.4M390.2 145.4h3.4M391.9 143.7v3.4M383.3 154.6h3.4M385.0 152.9v3.4M399.0 157.8h3.4M400.7 156.1v3.4M413.4 140.8h3.4M415.1 139.1v3.4M428.3 152.3h3.4M430.0 150.6v3.4M386.0 148.4h3.4M387.7 146.7v3.4M423.1 155.8h3.4M424.8 154.1v3.4M406.5 147.5h3.4M408.2 145.8v3.4M385.4 152.0h3.4M387.1 150.3v3.4M383.2 151.2h3.4M384.9 149.5v3.4M393.2 157.3h3.4M394.9 155.6v3.4M420.7 149.7h3.4M422.4 148.0v3.4M416.2 138.2h3.4M417.9 136.5v3.4M376.8 137.0h3.4M378.5 135.3v3.4M389.8 148.8h3.4M391.5 147.1v3.4M424.6 155.3h3.4M426.3 153.6v3.4M375.3 157.7h3.4M377.0 156.0v3.4M377.8 150.8h3.4M379.5 149.1v3.4M375.4 150.2h3.4M377.1 148.5v3.4M372.9 158.7h3.4M374.6 157.0v3.4M375.1 143.1h3.4M376.8 141.4v3.4M369.3 151.4h3.4M371.0 149.7v3.4M366.1 166.1h3.4M367.8 164.4v3.4M386.5 138.5h3.4M388.2 136.8v3.4M362.3 163.3h3.4M364.0 161.6v3.4M374.7 152.6h3.4M376.4 150.9v3.4M410.0 143.8h3.4M411.7 142.1v3.4M391.7 150.2h3.4M393.4 148.5v3.4M384.5 142.0h3.4M386.2 140.3v3.4M382.6 154.8h3.4M384.3 153.1v3.4M388.6 144.9h3.4M390.3 143.2v3.4M389.1 140.9h3.4M390.8 139.2v3.4M380.1 154.5h3.4M381.8 152.8v3.4M423.3 148.0h3.4M425.0 146.3v3.4M380.5 143.3h3.4M382.2 141.6v3.4M370.3 150.7h3.4M372.0 149.0v3.4M396.7 145.8h3.4M398.4 144.1v3.4M405.8 154.1h3.4M407.5 152.4v3.4M372.2 140.9h3.4M373.9 139.2v3.4M436.9 170.2h3.4M438.6 168.5v3.4M423.7 148.2h3.4M425.4 146.5v3.4M380.8 144.4h3.4M382.5 142.7v3.4M363.4 160.0h3.4M365.1 158.3v3.4M377.3 136.4h3.4M379.0 134.7v3.4M414.5 150.9h3.4M416.2 149.2v3.4M385.6 145.4h3.4M387.3 143.7v3.4M389.6 147.8h3.4M391.3 146.1v3.4M371.5 135.3h3.4M373.2 133.6v3.4M416.4 155.5h3.4M418.1 153.8v3.4M370.7 161.3h3.4M372.4 159.6v3.4M428.8 156.4h3.4M430.5 154.7v3.4M371.8 153.7h3.4M373.5 152.0v3.4M375.3 151.0h3.4M377.0 149.3v3.4M380.2 135.4h3.4M381.9 133.7v3.4M406.7 146.3h3.4M408.4 144.6v3.4M391.1 138.2h3.4M392.8 136.5v3.4M405.5 139.7h3.4M407.2 138.0v3.4M389.0 136.6h3.4M390.7 134.9v3.4M370.5 155.4h3.4M372.2 153.7v3.4M426.0 162.6h3.4M427.7 160.9v3.4M399.5 135.7h3.4M401.2 134.0v3.4M430.6 150.6h3.4M432.3 148.9v3.4M365.9 160.4h3.4M367.6 158.7v3.4M411.7 140.6h3.4M413.4 138.9v3.4M374.6 144.6h3.4M376.3 142.9v3.4M381.0 142.4h3.4M382.7 140.7v3.4M383.6 138.6h3.4M385.3 136.9v3.4M369.6 149.1h3.4M371.3 147.4v3.4M365.1 163.5h3.4M366.8 161.8v3.4M371.2 162.6h3.4M372.9 160.9v3.4M390.9 141.3h3.4M392.6 139.6v3.4M412.6 170.1h3.4M414.3 168.4v3.4M379.3 156.2h3.4M381.0 154.5v3.4M380.9 149.8h3.4M382.6 148.1v3.4M386.8 150.0h3.4M388.5 148.3v3.4M416.8 163.4h3.4M418.5 161.7v3.4M390.7 147.9h3.4M392.4 146.2v3.4M398.6 136.9h3.4M400.3 135.2v3.4M365.9 158.1h3.4M367.6 156.4v3.4M418.5 153.5h3.4M420.2 151.8v3.4M368.4 151.5h3.4M370.1 149.8v3.4M376.7 153.5h3.4M378.4 151.8v3.4M387.8 151.7h3.4M389.5 150.0v3.4M386.9 150.8h3.4M388.6 149.1v3.4M374.3 165.3h3.4M376.0 163.6v3.4M404.6 141.3h3.4M406.3 139.6v3.4M406.5 147.8h3.4M408.2 146.1v3.4M370.9 159.8h3.4M372.6 158.1v3.4M393.9 143.5h3.4M395.6 141.8v3.4M413.0 167.3h3.4M414.7 165.6v3.4M398.5 134.5h3.4M400.2 132.8v3.4M373.6 161.4h3.4M375.3 159.7v3.4M284.0 254.5h3.4M285.7 252.8v3.4M265.5 285.5h3.4M267.2 283.8v3.4M290.1 247.7h3.4M291.8 246.0v3.4M281.9 261.9h3.4M283.6 260.2v3.4M296.1 237.5h3.4M297.8 235.8v3.4M307.1 230.5h3.4M308.8 228.8v3.4M283.6 260.9h3.4M285.3 259.2v3.4M299.7 243.6h3.4M301.4 241.9v3.4M314.7 225.8h3.4M316.4 224.1v3.4M301.1 250.6h3.4M302.8 248.9v3.4M297.3 255.9h3.4M299.0 254.2v3.4M291.2 264.6h3.4M292.9 262.9v3.4M288.7 257.1h3.4M290.4 255.4v3.4M288.0 253.7h3.4M289.7 252.0v3.4M300.4 236.3h3.4M302.1 234.6v3.4M289.3 263.8h3.4M291.0 262.1v3.4M265.7 274.3h3.4M267.4 272.6v3.4M297.8 241.3h3.4M299.5 239.6v3.4M328.4 192.3h3.4M330.1 190.6v3.4M291.1 259.7h3.4M292.8 258.0v3.4M260.9 281.4h3.4M262.6 279.7v3.4M281.0 266.7h3.4M282.7 265.0v3.4M313.5 232.8h3.4M315.2 231.1v3.4M244.8 297.4h3.4M246.5 295.7v3.4M312.0 235.3h3.4M313.7 233.6v3.4M304.0 232.0h3.4M305.7 230.3v3.4M297.7 251.7h3.4M299.4 250.0v3.4M258.3 293.8h3.4M260.0 292.1v3.4M324.9 198.0h3.4M326.6 196.3v3.4M309.9 230.9h3.4M311.6 229.2v3.4M262.8 288.7h3.4M264.5 287.0v3.4M314.4 229.7h3.4M316.1 228.0v3.4M317.5 219.1h3.4M319.2 217.4v3.4M264.7 278.0h3.4M266.4 276.3v3.4M314.5 233.1h3.4M316.2 231.4v3.4M293.5 259.0h3.4M295.2 257.3v3.4M302.8 232.4h3.4M304.5 230.7v3.4M257.4 287.0h3.4M259.1 285.3v3.4M294.1 255.4h3.4M295.8 253.7v3.4M276.4 271.7h3.4M278.1 270.0v3.4M321.3 211.8h3.4M323.0 210.1v3.4M274.9 275.3h3.4M276.6 273.6v3.4M318.5 207.3h3.4M320.2 205.6v3.4M287.1 256.7h3.4M288.8 255.0v3.4M299.8 237.5h3.4M301.5 235.8v3.4M322.7 208.7h3.4M324.4 207.0v3.4M316.1 215.5h3.4M317.8 213.8v3.4M312.6 232.4h3.4M314.3 230.7v3.4M312.1 231.6h3.4M313.8 229.9v3.4M321.4 210.3h3.4M323.1 208.6v3.4M313.1 234.9h3.4M314.8 233.2v3.4M270.8 272.6h3.4M272.5 270.9v3.4M317.4 223.2h3.4M319.1 221.5v3.4M301.4 238.2h3.4M303.1 236.5v3.4M287.2 254.8h3.4M288.9 253.1v3.4M270.5 284.9h3.4M272.2 283.2v3.4M302.1 250.5h3.4M303.8 248.8v3.4M286.6 251.3h3.4M288.3 249.6v3.4M299.1 245.0h3.4M300.8 243.3v3.4M248.0 295.4h3.4M249.7 293.7v3.4M299.4 242.7h3.4M301.1 241.0v3.4M287.3 260.3h3.4M289.0 258.6v3.4M303.0 232.6h3.4M304.7 230.9v3.4M304.5 245.0h3.4M306.2 243.3v3.4M301.6 245.5h3.4M303.3 243.8v3.4M298.5 246.9h3.4M300.2 245.2v3.4M292.0 248.9h3.4M293.7 247.2v3.4M320.2 206.2h3.4M321.9 204.5v3.4M292.6 259.5h3.4M294.3 257.8v3.4M286.9 264.5h3.4M288.6 262.8v3.4M281.3 266.3h3.4M283.0 264.6v3.4M293.9 258.5h3.4M295.6 256.8v3.4M309.1 232.7h3.4M310.8 231.0v3.4M304.1 234.0h3.4M305.8 232.3v3.4M273.8 278.3h3.4M275.5 276.6v3.4M260.9 280.2h3.4M262.6 278.5v3.4M302.5 247.1h3.4M304.2 245.4v3.4M288.8 250.4h3.4M290.5 248.7v3.4M268.0 278.4h3.4M269.7 276.7v3.4M273.7 275.0h3.4M275.4 273.3v3.4M285.7 256.0h3.4M287.4 254.3v3.4M279.0 277.6h3.4M280.7 275.9v3.4M297.4 259.6h3.4M299.1 257.9v3.4M320.8 198.9h3.4M322.5 197.2v3.4M296.2 260.2h3.4M297.9 258.5v3.4M281.9 259.2h3.4M283.6 257.5v3.4M310.9 225.0h3.4M312.6 223.3v3.4M281.0 262.0h3.4M282.7 260.3v3.4M321.6 203.4h3.4M323.3 201.7v3.4M269.6 282.9h3.4M271.3 281.2v3.4M308.3 226.8h3.4M310.0 225.1v3.4M313.5 232.5h3.4M315.2 230.8v3.4M316.4 229.0h3.4M318.1 227.3v3.4M303.1 242.6h3.4M304.8 240.9v3.4M302.6 250.9h3.4M304.3 249.2v3.4M313.9 229.6h3.4M315.6 227.9v3.4M313.2 226.3h3.4M314.9 224.6v3.4M307.5 232.3h3.4M309.2 230.6v3.4M278.3 270.6h3.4M280.0 268.9v3.4M281.1 275.7h3.4M282.8 274.0v3.4M323.0 195.5h3.4M324.7 193.8v3.4M316.0 217.2h3.4M317.7 215.5v3.4M289.1 264.0h3.4M290.8 262.3v3.4M282.7 269.0h3.4M284.4 267.3v3.4M275.3 275.8h3.4M277.0 274.1v3.4M268.1 277.1h3.4M269.8 275.4v3.4M289.2 263.8h3.4M290.9 262.1v3.4M273.6 276.0h3.4M275.3 274.3v3.4M264.7 275.0h3.4M266.4 273.3v3.4M323.5 205.7h3.4M325.2 204.0v3.4M293.8 239.8h3.4M295.5 238.1v3.4M283.7 266.3h3.4M285.4 264.6v3.4M248.8 293.1h3.4M250.5 291.4v3.4M319.1 219.4h3.4M320.8 217.7v3.4M290.6 265.3h3.4M292.3 263.6v3.4M310.4 234.3h3.4M312.1 232.6v3.4M295.8 240.0h3.4M297.5 238.3v3.4M313.7 223.2h3.4M315.4 221.5v3.4M255.2 289.2h3.4M256.9 287.5v3.4M296.8 246.7h3.4M298.5 245.0v3.4M312.4 226.8h3.4M314.1 225.1v3.4M281.2 272.2h3.4M282.9 270.5v3.4M297.6 243.7h3.4M299.3 242.0v3.4M317.4 212.8h3.4M319.1 211.1v3.4M323.5 203.1h3.4M325.2 201.4v3.4M277.2 270.5h3.4M278.9 268.8v3.4M314.4 224.6h3.4M316.1 222.9v3.4M265.0 275.0h3.4M266.7 273.3v3.4M305.4 236.9h3.4M307.1 235.2v3.4M297.9 251.7h3.4M299.6 250.0v3.4M243.6 289.9h3.4M245.3 288.2v3.4M280.7 262.0h3.4M282.4 260.3v3.4M309.9 224.8h3.4M311.6 223.1v3.4M302.8 230.3h3.4M304.5 228.6v3.4M320.8 216.3h3.4M322.5 214.6v3.4M262.2 292.9h3.4M263.9 291.2v3.4M317.1 227.3h3.4M318.8 225.6v3.4M319.1 211.7h3.4M320.8 210.0v3.4M323.3 204.3h3.4M325.0 202.6v3.4M299.8 236.9h3.4M301.5 235.2v3.4M237.4 299.2h3.4M239.1 297.5v3.4M319.6 216.2h3.4M321.3 214.5v3.4M314.7 231.1h3.4M316.4 229.4v3.4M311.3 224.8h3.4M313.0 223.1v3.4M307.9 236.8h3.4M309.6 235.1v3.4M270.2 278.8h3.4M271.9 277.1v3.4M270.0 284.6h3.4M271.7 282.9v3.4M309.4 226.3h3.4M311.1 224.6v3.4M325.6 189.3h3.4M327.3 187.6v3.4M257.2 283.2h3.4M258.9 281.5v3.4M265.2 273.9h3.4M266.9 272.2v3.4M331.1 178.6h3.4M332.8 176.9v3.4M269.6 276.7h3.4M271.3 275.0v3.4M297.0 259.7h3.4M298.7 258.0v3.4M327.0 191.7h3.4M328.7 190.0v3.4M305.0 243.5h3.4M306.7 241.8v3.4M314.9 225.7h3.4M316.6 224.0v3.4M253.6 292.9h3.4M255.3 291.2v3.4M251.2 285.9h3.4M252.9 284.2v3.4M279.0 268.7h3.4M280.7 267.0v3.4M302.1 245.0h3.4M303.8 243.3v3.4M319.0 214.6h3.4M320.7 212.9v3.4M273.4 270.4h3.4M275.1 268.7v3.4M301.4 238.8h3.4M303.1 237.1v3.4M288.0 264.2h3.4M289.7 262.5v3.4M281.0 260.9h3.4M282.7 259.2v3.4M310.3 227.5h3.4M312.0 225.8v3.4M237.2 299.8h3.4M238.9 298.1v3.4M302.3 245.6h3.4M304.0 243.9v3.4M304.3 245.7h3.4M306.0 244.0v3.4M293.4 252.4h3.4M295.1 250.7v3.4M309.4 233.5h3.4M311.1 231.8v3.4M298.4 242.4h3.4M300.1 240.7v3.4M321.0 197.8h3.4M322.7 196.1v3.4M319.5 211.9h3.4M321.2 210.2v3.4M310.5 235.2h3.4M312.2 233.5v3.4M286.8 270.6h3.4M288.5 268.9v3.4M241.8 293.9h3.4M243.5 292.2v3.4M317.0 230.4h3.4M318.7 228.7v3.4M299.8 244.4h3.4M301.5 242.7v3.4M320.8 208.5h3.4M322.5 206.8v3.4M285.2 253.7h3.4M286.9 252.0v3.4M281.1 258.8h3.4M282.8 257.1v3.4M245.1 288.8h3.4M246.8 287.1v3.4M327.0 183.0h3.4M328.7 181.3v3.4M316.0 230.3h3.4M317.7 228.6v3.4M308.0 233.1h3.4M309.7 231.4v3.4M318.3 210.2h3.4M320.0 208.5v3.4M287.0 271.1h3.4M288.7 269.4v3.4M257.7 288.6h3.4M259.4 286.9v3.4M313.0 224.7h3.4M314.7 223.0v3.4M302.5 237.7h3.4M304.2 236.0v3.4M274.3 272.6h3.4M276.0 270.9v3.4M281.1 269.0h3.4M282.8 267.3v3.4M321.1 217.3h3.4M322.8 215.6v3.4M319.0 220.7h3.4M320.7 219.0v3.4M314.3 221.6h3.4M316.0 219.9v3.4M290.0 259.3h3.4M291.7 257.6v3.4M290.1 260.0h3.4M291.8 258.3v3.4M320.1 209.7h3.4M321.8 208.0v3.4M303.6 244.7h3.4M305.3 243.0v3.4M304.3 241.7h3.4M306.0 240.0v3.4M282.9 271.9h3.4M284.6 270.2v3.4M290.2 258.8h3.4M291.9 257.1v3.4M308.1 242.1h3.4M309.8 240.4v3.4M314.6 222.1h3.4M316.3 220.4v3.4M320.3 213.9h3.4M322.0 212.2v3.4M285.1 256.1h3.4M286.8 254.4v3.4M309.4 238.1h3.4M311.1 236.4v3.4M300.5 249.0h3.4M302.2 247.3v3.4M293.0 263.2h3.4M294.7 261.5v3.4M275.4 267.1h3.4M277.1 265.4v3.4M287.3 264.7h3.4M289.0 263.0v3.4M254.9 293.2h3.4M256.6 291.5v3.4M326.6 189.5h3.4M328.3 187.8v3.4M296.9 257.0h3.4M298.6 255.3v3.4M298.1 235.6h3.4M299.8 233.9v3.4M310.8 225.7h3.4M312.5 224.0v3.4M277.6 263.2h3.4M279.3 261.5v3.4M299.9 250.3h3.4M301.6 248.6v3.4M311.8 227.4h3.4M313.5 225.7v3.4M293.0 260.1h3.4M294.7 258.4v3.4M252.4 284.5h3.4M254.1 282.8v3.4M321.8 206.5h3.4M323.5 204.8v3.4M305.9 236.3h3.4M307.6 234.6v3.4M289.8 256.9h3.4M291.5 255.2v3.4M275.5 275.4h3.4M277.2 273.7v3.4M284.5 268.3h3.4M286.2 266.6v3.4M323.4 196.5h3.4M325.1 194.8v3.4M318.2 209.5h3.4M319.9 207.8v3.4M314.0 234.2h3.4M315.7 232.5v3.4M311.0 224.7h3.4M312.7 223.0v3.4M316.0 223.0h3.4M317.7 221.3v3.4M283.6 259.7h3.4M285.3 258.0v3.4M257.9 295.7h3.4M259.6 294.0v3.4M310.8 224.1h3.4M312.5 222.4v3.4M238.6 299.7h3.4M240.3 298.0v3.4M317.3 221.0h3.4M319.0 219.3v3.4M317.2 212.3h3.4M318.9 210.6v3.4M272.0 268.5h3.4M273.7 266.8v3.4M322.6 193.9h3.4M324.3 192.2v3.4M298.0 247.8h3.4M299.7 246.1v3.4M326.9 192.9h3.4M328.6 191.2v3.4M255.1 282.2h3.4M256.8 280.5v3.4M304.7 239.1h3.4M306.4 237.4v3.4M256.1 289.1h3.4M257.8 287.4v3.4M268.3 277.2h3.4M270.0 275.5v3.4M306.4 234.5h3.4M308.1 232.8v3.4M278.2 261.7h3.4M279.9 260.0v3.4M266.2 280.0h3.4M267.9 278.3v3.4M296.0 241.0h3.4M297.7 239.3v3.4M278.6 273.5h3.4M280.3 271.8v3.4M318.2 217.3h3.4M319.9 215.6v3.4M318.9 227.0h3.4M320.6 225.3v3.4M291.1 258.4h3.4M292.8 256.7v3.4M263.7 274.9h3.4M265.4 273.2v3.4M324.9 194.6h3.4M326.6 192.9v3.4M284.4 261.8h3.4M286.1 260.1v3.4M266.4 281.5h3.4M268.1 279.8v3.4M310.6 236.4h3.4M312.3 234.7v3.4M293.5 259.2h3.4M295.2 257.5v3.4M267.8 288.4h3.4M269.5 286.7v3.4M318.2 223.1h3.4M319.9 221.4v3.4M270.4 279.4h3.4M272.1 277.7v3.4M277.5 268.4h3.4M279.2 266.7v3.4M258.5 281.3h3.4M260.2 279.6v3.4M314.4 217.2h3.4M316.1 215.5v3.4M287.1 260.0h3.4M288.8 258.3v3.4M318.5 219.4h3.4M320.2 217.7v3.4M298.7 247.0h3.4M300.4 245.3v3.4M306.0 237.6h3.4M307.7 235.9v3.4M293.3 248.5h3.4M295.0 246.8v3.4M314.5 228.6h3.4M316.2 226.9v3.4M310.8 234.6h3.4M312.5 232.9v3.4M317.4 228.0h3.4M319.1 226.3v3.4M331.1 178.5h3.4M332.8 176.8v3.4M309.0 231.6h3.4M310.7 229.9v3.4M285.6 266.2h3.4M287.3 264.5v3.4M275.5 278.6h3.4M277.2 276.9v3.4M312.1 235.2h3.4M313.8 233.5v3.4M316.1 222.8h3.4M317.8 221.1v3.4M289.2 252.6h3.4M290.9 250.9v3.4M307.8 234.4h3.4M309.5 232.7v3.4M304.1 235.8h3.4M305.8 234.1v3.4M299.3 239.1h3.4M301.0 237.4v3.4M295.2 238.4h3.4M296.9 236.7v3.4M323.9 201.8h3.4M325.6 200.1v3.4M275.1 270.0h3.4M276.8 268.3v3.4M269.9 281.3h3.4M271.6 279.6v3.4M285.0 273.0h3.4M286.7 271.3v3.4M316.6 229.8h3.4M318.3 228.1v3.4M306.5 235.2h3.4M308.2 233.5v3.4M306.4 235.9h3.4M308.1 234.2v3.4M307.6 240.5h3.4M309.3 238.8v3.4M299.4 243.9h3.4M301.1 242.2v3.4M312.1 225.0h3.4M313.8 223.3v3.4M318.9 224.3h3.4M320.6 222.6v3.4M252.4 285.8h3.4M254.1 284.1v3.4M292.5 242.2h3.4M294.2 240.5v3.4M276.5 267.3h3.4M278.2 265.6v3.4M311.6 237.8h3.4M313.3 236.1v3.4M306.4 231.4h3.4M308.1 229.7v3.4M303.9 248.4h3.4M305.6 246.7v3.4M254.4 293.1h3.4M256.1 291.4v3.4M247.0 296.7h3.4M248.7 295.0v3.4M278.5 274.0h3.4M280.2 272.3v3.4M291.6 250.5h3.4M293.3 248.8v3.4M296.0 239.7h3.4M297.7 238.0v3.4M257.7 292.9h3.4M259.4 291.2v3.4M290.6 252.6h3.4M292.3 250.9v3.4M256.4 279.4h3.4M258.1 277.7v3.4M284.1 267.3h3.4M285.8 265.6v3.4M248.9 294.3h3.4M250.6 292.6v3.4M258.3 291.0h3.4M260.0 289.3v3.4M307.6 231.3h3.4M309.3 229.6v3.4M333.7 164.3h3.4M335.4 162.6v3.4M335.0 146.7h3.4M336.7 145.0v3.4M332.0 152.5h3.4M333.7 150.8v3.4M337.0 156.3h3.4M338.7 154.6v3.4M333.5 165.0h3.4M335.2 163.3v3.4M338.9 146.6h3.4M340.6 144.9v3.4M340.0 153.5h3.4M341.7 151.8v3.4M331.1 150.5h3.4M332.8 148.8v3.4M334.1 166.8h3.4M335.8 165.1v3.4M337.7 150.6h3.4M339.4 148.9v3.4M329.3 154.0h3.4M331.0 152.3v3.4M248.9 295.9h3.4M250.6 294.2v3.4M250.4 286.5h3.4M252.1 284.8v3.4M246.8 298.6h3.4M248.5 296.9v3.4M251.1 285.6h3.4M252.8 283.9v3.4" stroke="#000" stroke-width="1.3" fill="none"/>
<path d="M338.9 160.2L340.4 165.8L340.4 165.9L340.4 165.9L340.4 166.0L340.4 166.1L340.4 166.2L340.4 166.2L340.3 166.3L333.8 182.2L332.2 190.2L332.2 190.2L332.1 190.3L328.7 199.3L328.7 199.3L324.8 209.2L322.3 220.2L322.3 220.2L319.3 230.2L319.2 230.3L319.2 230.4L319.1 230.5L319.1 230.5L310.1 240.5L303.7 250.4L297.7 260.4L297.7 260.5L290.7 270.5L290.6 270.5L290.6 270.6L290.5 270.6L277.5 281.6L277.5 281.6L264.5 291.6L259.6 296.5L268.2 298.2L268.2 298.2L280.2 301.2L292.0 303.2L304.7 301.2L312.4 296.5L315.2 289.7L317.7 279.8L317.7 279.8L320.7 269.8L320.7 269.7L324.2 259.7L324.3 259.6L329.3 249.6L329.3 249.6L334.8 239.6L339.2 229.7L341.7 219.8L341.7 219.7L341.8 219.6L344.3 214.6L344.3 214.6L344.4 214.5L348.3 209.6L351.2 199.8L351.3 199.7L353.3 194.7L353.3 194.7L355.8 188.7L355.8 188.7L359.8 179.7L359.8 179.6L363.3 172.6L363.3 172.6L363.4 172.5L363.4 172.4L368.4 167.5L371.1 163.9L369.4 159.6L361.7 156.8L355.1 154.8L348.3 157.7L348.2 157.8L348.2 157.8L348.1 157.8L348.0 157.8L347.9 157.8L347.9 157.8L342.3 156.9L338.9 160.2Z" fill="#f00"/>
<path d="M341.3 93.0h3.4M343.0 91.3v3.4M343.3 99.2h3.4M345.0 97.5v3.4M344.6 100.0h3.4M346.3 98.3v3.4M337.5 103.0h3.4M339.2 101.3v3.4M350.8 100.8h3.4M352.5 99.1v3.4M354.6 99.7h3.4M356.3 98.0v3.4M331.3 161.3h3.4M333.0 159.6v3.4M329.6 165.8h3.4M331.3 164.1v3.4M331.2 161.3h3.4M332.9 159.6v3.4M328.6 164.9h3.4M330.3 163.2v3.4M329.7 166.4h3.4M331.4 164.7v3.4M269.9 336.8h3.4M271.6 335.1v3.4M273.4 337.9h3.4M275.1 336.2v3.4M276.3 336.2h3.4M278.0 334.5v3.4M279.8 335.6h3.4M281.5 333.9v3.4M283.3 336.8h3.4M285.0 335.1v3.4M285.6 338.5h3.4M287.3 336.8v3.4M288.6 337.3h3.4M290.3 335.6v3.4M292.1 339.7h3.4M293.8 338.0v3.4M295.0 343.2h3.4M296.7 341.5v3.4M297.9 346.1h3.4M299.6 344.4v3.4M300.8 340.8h3.4M302.5 339.1v3.4M307.2 343.2h3.4M308.9 341.5v3.4M313.6 338.5h3.4M315.3 336.8v3.4M309.0 335.6h3.4M310.7 333.9v3.4M263.5 343.8h3.4M265.2 342.1v3.4M267.0 342.0h3.4M268.7 340.3v3.4M269.3 345.5h3.4M271.0 343.8v3.4M271.6 347.8h3.4M273.3 346.1v3.4M268.7 349.6h3.4M270.4 347.9v3.4M270.5 351.3h3.4M272.2 349.6v3.4M273.4 349.6h3.4M275.1 347.9v3.4M276.3 347.8h3.4M278.0 346.1v3.4M278.6 346.7h3.4M280.3 345.0v3.4M280.4 344.3h3.4M282.1 342.6v3.4M282.1 349.0h3.4M283.8 347.3v3.4M284.5 350.2h3.4M286.2 348.5v3.4M286.8 345.5h3.4M288.5 343.8v3.4M288.6 346.7h3.4M290.3 345.0v3.4M285.6 352.5h3.4M287.3 350.8v3.4M283.3 354.8h3.4M285.0 353.1v3.4M281.0 356.0h3.4M282.7 354.3v3.4M279.2 354.3h3.4M280.9 352.6v3.4M276.3 352.5h3.4M278.0 350.8v3.4M273.4 356.0h3.4M275.1 354.3v3.4M271.1 354.3h3.4M272.8 352.6v3.4M265.2 353.7h3.4M266.9 352.0v3.4M268.1 353.7h3.4M269.8 352.0v3.4M293.8 351.9h3.4M295.5 350.2v3.4M297.3 356.6h3.4M299.0 354.9v3.4M289.1 356.6h3.4M290.8 354.9v3.4M286.8 359.5h3.4M288.5 357.8v3.4M285.6 363.0h3.4M287.3 361.3v3.4M283.9 364.2h3.4M285.6 362.5v3.4M288.0 364.8h3.4M289.7 363.1v3.4M277.5 365.3h3.4M279.2 363.6v3.4M278.6 364.2h3.4M280.3 362.5v3.4M276.9 366.5h3.4M278.6 364.8v3.4M272.2 361.8h3.4M273.9 360.1v3.4M273.4 363.0h3.4M275.1 361.3v3.4M275.1 358.3h3.4M276.8 356.6v3.4M280.4 358.3h3.4M282.1 356.6v3.4M282.7 358.3h3.4M284.4 356.6v3.4M282.1 361.3h3.4M283.8 359.6v3.4M289.7 361.8h3.4M291.4 360.1v3.4M357.8 119.6h3.4M359.5 117.9v3.4M361.2 118.5h3.4M362.9 116.8v3.4M355.6 123.0h3.4M357.3 121.3v3.4M358.4 123.6h3.4M360.1 121.9v3.4M371.9 123.6h3.4M373.6 121.9v3.4M374.1 126.4h3.4M375.8 124.7v3.4M376.4 128.1h3.4M378.1 126.4v3.4M373.6 132.0h3.4M375.3 130.3v3.4M354.4 128.6h3.4M356.1 126.9v3.4M357.8 132.0h3.4M359.5 130.3v3.4M361.2 131.5h3.4M362.9 129.8v3.4M359.5 135.4h3.4M361.2 133.7v3.4M362.3 135.4h3.4M364.0 133.7v3.4M364.6 134.3h3.4M366.3 132.6v3.4M370.2 136.5h3.4M371.9 134.8v3.4M356.1 138.8h3.4M357.8 137.1v3.4M360.1 139.9h3.4M361.8 138.2v3.4M364.0 139.9h3.4M365.7 138.2v3.4M367.9 141.0h3.4M369.6 139.3v3.4M355.6 143.3h3.4M357.3 141.6v3.4M360.1 143.9h3.4M361.8 142.2v3.4M363.4 143.3h3.4M365.1 141.6v3.4M366.8 142.7h3.4M368.5 141.0v3.4M378.6 143.9h3.4M380.3 142.2v3.4M381.5 143.9h3.4M383.2 142.2v3.4M383.7 144.4h3.4M385.4 142.7v3.4M356.7 147.8h3.4M358.4 146.1v3.4M360.1 148.9h3.4M361.8 147.2v3.4M354.4 152.3h3.4M356.1 150.6v3.4M357.8 153.4h3.4M359.5 151.7v3.4M362.3 154.5h3.4M364.0 152.8v3.4M365.7 152.3h3.4M367.4 150.6v3.4M370.2 156.8h3.4M371.9 155.1v3.4M375.8 157.9h3.4M377.5 156.2v3.4M380.3 157.9h3.4M382.0 156.2v3.4M355.6 157.9h3.4M357.3 156.2v3.4M360.1 157.9h3.4M361.8 156.2v3.4M336.9 111.5h3.4M338.6 109.8v3.4M337.9 112.9h3.4M339.6 111.2v3.4M330.5 124.7h3.4M332.2 123.0v3.4M336.9 122.8h3.4M338.6 121.1v3.4M338.9 124.7h3.4M340.6 123.0v3.4M345.7 121.8h3.4M347.4 120.1v3.4M348.2 117.9h3.4M349.9 116.2v3.4M347.2 119.8h3.4M348.9 118.1v3.4M344.8 127.2h3.4M346.5 125.5v3.4M342.8 126.7h3.4M344.5 125.0v3.4M346.2 130.6h3.4M347.9 128.9v3.4M352.1 128.7h3.4M353.8 127.0v3.4M335.9 127.2h3.4M337.6 125.5v3.4M341.8 135.6h3.4M343.5 133.9v3.4M342.8 137.5h3.4M344.5 135.8v3.4M327.1 138.5h3.4M328.8 136.8v3.4M327.6 141.5h3.4M329.3 139.8v3.4M333.9 141.5h3.4M335.6 139.8v3.4M333.5 143.4h3.4M335.2 141.7v3.4M327.1 150.8h3.4M328.8 149.1v3.4M342.8 147.4h3.4M344.5 145.7v3.4M344.8 145.4h3.4M346.5 143.7v3.4M346.7 150.3h3.4M348.4 148.6v3.4M340.8 153.3h3.4M342.5 151.6v3.4M338.9 155.2h3.4M340.6 153.5v3.4M350.7 135.6h3.4M352.4 133.9v3.4M352.6 137.5h3.4M354.3 135.8v3.4M348.7 139.5h3.4M350.4 137.8v3.4M352.6 142.4h3.4M354.3 140.7v3.4M349.7 144.4h3.4M351.4 142.7v3.4M353.6 147.4h3.4M355.3 145.7v3.4M354.6 151.3h3.4M356.3 149.6v3.4M350.7 153.3h3.4M352.4 151.6v3.4M345.7 156.2h3.4M347.4 154.5v3.4M352.6 156.2h3.4M354.3 154.5v3.4M354.6 124.7h3.4M356.3 123.0v3.4M347.7 125.7h3.4M349.4 124.0v3.4M321.3 297.4h3.4M323.0 295.7v3.4M328.8 281.6h3.4M330.5 279.9v3.4M322.7 272.2h3.4M324.4 270.5v3.4M337.2 234.1h3.4M338.9 232.4v3.4M313.9 297.6h3.4M315.6 295.9v3.4M333.5 244.1h3.4M335.2 242.4v3.4M326.6 266.2h3.4M328.3 264.5v3.4M325.9 266.4h3.4M327.6 264.7v3.4M320.0 302.5h3.4M321.7 300.8v3.4M326.4 281.9h3.4M328.1 280.2v3.4M328.7 269.0h3.4M330.4 267.3v3.4M319.4 291.6h3.4M321.1 289.9v3.4M320.4 282.9h3.4M322.1 281.2v3.4M331.8 255.5h3.4M333.5 253.8v3.4M320.6 297.8h3.4M322.3 296.1v3.4M316.2 297.4h3.4M317.9 295.7v3.4M316.7 281.9h3.4M318.4 280.2v3.4M322.9 262.5h3.4M324.6 260.8v3.4M310.9 298.2h3.4M312.6 296.5v3.4M327.0 279.5h3.4M328.7 277.8v3.4M331.0 276.1h3.4M332.7 274.4v3.4M323.0 287.6h3.4M324.7 285.9v3.4M314.4 282.2h3.4M316.1 280.5v3.4M322.3 282.3h3.4M324.0 280.6v3.4M322.5 280.6h3.4M324.2 278.9v3.4M328.2 286.9h3.4M329.9 285.2v3.4M321.2 262.3h3.4M322.9 260.6v3.4M323.9 294.7h3.4M325.6 293.0v3.4M317.4 278.6h3.4M319.1 276.9v3.4M331.4 260.2h3.4M333.1 258.5v3.4M323.2 289.6h3.4M324.9 287.9v3.4M336.4 247.3h3.4M338.1 245.6v3.4M314.9 286.6h3.4M316.6 284.9v3.4M335.8 295.9h3.4M337.5 294.2v3.4M325.5 284.5h3.4M327.2 282.8v3.4M332.5 278.6h3.4M334.2 276.9v3.4M313.8 277.3h3.4M315.5 275.6v3.4M326.9 262.3h3.4M328.6 260.6v3.4M327.6 275.1h3.4M329.3 273.4v3.4M318.4 271.7h3.4M320.1 270.0v3.4M328.8 269.5h3.4M330.5 267.8v3.4M319.9 282.3h3.4M321.6 280.6v3.4M330.5 264.1h3.4M332.2 262.4v3.4M316.1 296.1h3.4M317.8 294.4v3.4M315.6 288.4h3.4M317.3 286.7v3.4M335.8 256.5h3.4M337.5 254.8v3.4M316.6 293.9h3.4M318.3 292.2v3.4M317.2 284.6h3.4M318.9 282.9v3.4M325.5 296.5h3.4M327.2 294.8v3.4M330.3 277.1h3.4M332.0 275.4v3.4M314.4 280.7h3.4M316.1 279.0v3.4M314.6 282.6h3.4M316.3 280.9v3.4M321.4 253.6h3.4M323.1 251.9v3.4M326.8 283.0h3.4M328.5 281.3v3.4M322.6 276.7h3.4M324.3 275.0v3.4M307.5 292.9h3.4M309.2 291.2v3.4M324.0 294.1h3.4M325.7 292.4v3.4M322.8 270.7h3.4M324.5 269.0v3.4M335.1 246.5h3.4M336.8 244.8v3.4M332.6 251.9h3.4M334.3 250.2v3.4M332.7 263.3h3.4M334.4 261.6v3.4M331.0 251.3h3.4M332.7 249.6v3.4M312.0 296.6h3.4M313.7 294.9v3.4M318.6 301.3h3.4M320.3 299.6v3.4M336.3 237.3h3.4M338.0 235.6v3.4M334.0 251.4h3.4M335.7 249.7v3.4M310.5 282.7h3.4M312.2 281.0v3.4M327.2 255.9h3.4M328.9 254.2v3.4M324.4 290.6h3.4M326.1 288.9v3.4M321.2 291.2h3.4M322.9 289.5v3.4M336.8 245.2h3.4M338.5 243.5v3.4M332.0 285.0h3.4M333.7 283.3v3.4M323.2 276.7h3.4M324.9 275.0v3.4M330.2 247.5h3.4M331.9 245.8v3.4M330.6 271.1h3.4M332.3 269.4v3.4M333.0 273.1h3.4M334.7 271.4v3.4M325.7 278.1h3.4M327.4 276.4v3.4M315.2 297.5h3.4M316.9 295.8v3.4M326.2 264.0h3.4M327.9 262.3v3.4M322.3 293.1h3.4M324.0 291.4v3.4M325.7 286.6h3.4M327.4 284.9v3.4M320.1 285.1h3.4M321.8 283.4v3.4M310.5 292.2h3.4M312.2 290.5v3.4M324.6 287.1h3.4M326.3 285.4v3.4M327.1 250.0h3.4M328.8 248.3v3.4M319.8 276.8h3.4M321.5 275.1v3.4M334.4 241.6h3.4M336.1 239.9v3.4M328.8 253.0h3.4M330.5 251.3v3.4M318.7 301.9h3.4M320.4 300.2v3.4M324.6 243.5h3.4M326.3 241.8v3.4M307.3 296.6h3.4M309.0 294.9v3.4M287.2 307.1h3.4M288.9 305.4v3.4M349.6 205.7h3.4M351.3 204.0v3.4M314.6 280.1h3.4M316.3 278.4v3.4M287.9 306.2h3.4M289.6 304.5v3.4M297.5 270.1h3.4M299.2 268.4v3.4M343.6 159.1h3.4M345.3 157.4v3.4M349.1 168.7h3.4M350.8 167.0v3.4M268.3 300.1h3.4M270.0 298.4v3.4M335.8 183.8h3.4M337.5 182.1v3.4M340.1 195.4h3.4M341.8 193.7v3.4M328.3 233.7h3.4M330.0 232.0v3.4M332.0 207.3h3.4M333.7 205.6v3.4M308.6 278.5h3.4M310.3 276.8v3.4M315.2 258.1h3.4M316.9 256.4v3.4M336.7 227.1h3.4M338.4 225.4v3.4M298.9 266.4h3.4M300.6 264.7v3.4M357.1 206.6h3.4M358.8 204.9v3.4M291.0 305.4h3.4M292.7 303.7v3.4M324.2 228.7h3.4M325.9 227.0v3.4M325.2 253.1h3.4M326.9 251.4v3.4M277.9 289.8h3.4M279.6 288.1v3.4M365.5 159.4h3.4M367.2 157.7v3.4M289.5 281.3h3.4M291.2 279.6v3.4M292.5 271.5h3.4M294.2 269.8v3.4M334.8 206.5h3.4M336.5 204.8v3.4M289.6 305.8h3.4M291.3 304.1v3.4M290.4 283.8h3.4M292.1 282.1v3.4M311.5 254.5h3.4M313.2 252.8v3.4M301.7 287.7h3.4M303.4 286.0v3.4M344.5 203.4h3.4M346.2 201.7v3.4M317.9 253.9h3.4M319.6 252.2v3.4M337.2 175.7h3.4M338.9 174.0v3.4M324.7 237.7h3.4M326.4 236.0v3.4M303.9 301.3h3.4M305.6 299.6v3.4M286.2 280.4h3.4M287.9 278.7v3.4M315.0 280.7h3.4M316.7 279.0v3.4M334.9 192.6h3.4M336.6 190.9v3.4M312.2 253.4h3.4M313.9 251.7v3.4M363.1 170.6h3.4M364.8 168.9v3.4M319.0 250.4h3.4M320.7 248.7v3.4M358.7 156.6h3.4M360.4 154.9v3.4M305.0 252.5h3.4M306.7 250.8v3.4M309.3 240.5h3.4M311.0 238.8v3.4M334.5 211.3h3.4M336.2 209.6v3.4M305.8 257.4h3.4M307.5 255.7v3.4M326.7 251.2h3.4M328.4 249.5v3.4M303.0 289.0h3.4M304.7 287.3v3.4M320.0 229.9h3.4M321.7 228.2v3.4M306.4 253.1h3.4M308.1 251.4v3.4M349.3 171.6h3.4M351.0 169.9v3.4M292.4 268.2h3.4M294.1 266.5v3.4M346.3 172.3h3.4M348.0 170.6v3.4M335.1 198.3h3.4M336.8 196.6v3.4M274.9 300.2h3.4M276.6 298.5v3.4M298.8 290.1h3.4M300.5 288.4v3.4M338.9 187.3h3.4M340.6 185.6v3.4M290.2 284.8h3.4M291.9 283.1v3.4M268.5 287.6h3.4M270.2 285.9v3.4M332.0 183.1h3.4M333.7 181.4v3.4M288.5 270.6h3.4M290.2 268.9v3.4M297.2 257.2h3.4M298.9 255.5v3.4M322.3 215.7h3.4M324.0 214.0v3.4M316.7 249.4h3.4M318.4 247.7v3.4M313.9 285.5h3.4M315.6 283.8v3.4M305.7 279.4h3.4M307.4 277.7v3.4M280.4 296.7h3.4M282.1 295.0v3.4M361.2 171.1h3.4M362.9 169.4v3.4M345.6 193.6h3.4M347.3 191.9v3.4M337.4 232.9h3.4M339.1 231.2v3.4M346.5 188.6h3.4M348.2 186.9v3.4M271.0 290.8h3.4M272.7 289.1v3.4M294.7 300.9h3.4M296.4 299.2v3.4M325.6 207.2h3.4M327.3 205.5v3.4M352.3 161.5h3.4M354.0 159.8v3.4M299.6 262.1h3.4M301.3 260.4v3.4M364.8 179.1h3.4M366.5 177.4v3.4M322.8 213.3h3.4M324.5 211.6v3.4M357.0 168.6h3.4M358.7 166.9v3.4M325.6 249.0h3.4M327.3 247.3v3.4M297.7 282.1h3.4M299.4 280.4v3.4M352.7 181.6h3.4M354.4 179.9v3.4M339.4 162.4h3.4M341.1 160.7v3.4M329.3 193.6h3.4M331.0 191.9v3.4M280.4 287.3h3.4M282.1 285.6v3.4M294.6 273.0h3.4M296.3 271.3v3.4M282.9 278.9h3.4M284.6 277.2v3.4M312.0 286.6h3.4M313.7 284.9v3.4M330.9 222.6h3.4M332.6 220.9v3.4M276.3 296.1h3.4M278.0 294.4v3.4M316.7 258.8h3.4M318.4 257.1v3.4M298.5 275.9h3.4M300.2 274.2v3.4M314.1 236.6h3.4M315.8 234.9v3.4M341.6 168.2h3.4M343.3 166.5v3.4M308.2 286.4h3.4M309.9 284.7v3.4M306.6 265.4h3.4M308.3 263.7v3.4M334.7 191.3h3.4M336.4 189.6v3.4M293.2 292.4h3.4M294.9 290.7v3.4M323.1 236.3h3.4M324.8 234.6v3.4M356.0 175.1h3.4M357.7 173.4v3.4M301.6 272.4h3.4M303.3 270.7v3.4M333.3 183.9h3.4M335.0 182.2v3.4M332.1 242.0h3.4M333.8 240.3v3.4M307.5 281.2h3.4M309.2 279.5v3.4M303.9 294.1h3.4M305.6 292.4v3.4M355.3 160.8h3.4M357.0 159.1v3.4M292.6 286.4h3.4M294.3 284.7v3.4M344.7 159.3h3.4M346.4 157.6v3.4M348.4 163.8h3.4M350.1 162.1v3.4M333.1 240.0h3.4M334.8 238.3v3.4M291.5 268.8h3.4M293.2 267.1v3.4M330.8 218.6h3.4M332.5 216.9v3.4M333.6 229.3h3.4M335.3 227.6v3.4M362.0 173.3h3.4M363.7 171.6v3.4M343.0 169.4h3.4M344.7 167.7v3.4M265.9 291.9h3.4M267.6 290.2v3.4M319.2 248.1h3.4M320.9 246.4v3.4M328.7 207.9h3.4M330.4 206.2v3.4M330.6 241.0h3.4M332.3 239.3v3.4M336.5 190.3h3.4M338.2 188.6v3.4M339.9 167.3h3.4M341.6 165.6v3.4M288.1 296.8h3.4M289.8 295.1v3.4M340.8 175.5h3.4M342.5 173.8v3.4M360.5 155.1h3.4M362.2 153.4v3.4M317.2 269.8h3.4M318.9 268.1v3.4M318.9 263.7h3.4M320.6 262.0v3.4M322.7 239.9h3.4M324.4 238.2v3.4M297.5 292.5h3.4M299.2 290.8v3.4M295.3 285.5h3.4M297.0 283.8v3.4M274.0 302.4h3.4M275.7 300.7v3.4M319.6 226.5h3.4M321.3 224.8v3.4M360.9 162.3h3.4M362.6 160.6v3.4M265.0 294.2h3.4M266.7 292.5v3.4M336.2 190.8h3.4M337.9 189.1v3.4M341.0 169.2h3.4M342.7 167.5v3.4M285.5 296.3h3.4M287.2 294.6v3.4M346.7 160.2h3.4M348.4 158.5v3.4M348.8 167.3h3.4M350.5 165.6v3.4M295.3 300.5h3.4M297.0 298.8v3.4M343.5 166.7h3.4M345.2 165.0v3.4M320.9 261.4h3.4M322.6 259.7v3.4M323.2 209.9h3.4M324.9 208.2v3.4M307.5 279.0h3.4M309.2 277.3v3.4M340.5 154.9h3.4M342.2 153.2v3.4M335.9 231.1h3.4M337.6 229.4v3.4M345.8 158.8h3.4M347.5 157.1v3.4M337.1 224.2h3.4M338.8 222.5v3.4M347.6 174.5h3.4M349.3 172.8v3.4M353.9 175.6h3.4M355.6 173.9v3.4M357.4 159.6h3.4M359.1 157.9v3.4M314.1 260.4h3.4M315.8 258.7v3.4M345.2 202.0h3.4M346.9 200.3v3.4M316.5 262.2h3.4M318.2 260.5v3.4M280.2 283.1h3.4M281.9 281.4v3.4M364.8 153.8h3.4M366.5 152.1v3.4M359.7 175.1h3.4M361.4 173.4v3.4M314.3 273.1h3.4M316.0 271.4v3.4M370.3 161.7h3.4M372.0 160.0v3.4M344.2 168.2h3.4M345.9 166.5v3.4M338.1 212.9h3.4M339.8 211.2v3.4M336.2 180.4h3.4M337.9 178.7v3.4M308.5 240.1h3.4M310.2 238.4v3.4M314.4 274.0h3.4M316.1 272.3v3.4M306.6 286.3h3.4M308.3 284.6v3.4M315.5 284.9h3.4M317.2 283.2v3.4M348.3 208.9h3.4M350.0 207.2v3.4M280.7 292.1h3.4M282.4 290.4v3.4M282.3 276.8h3.4M284.0 275.1v3.4M312.8 275.9h3.4M314.5 274.2v3.4M265.5 293.6h3.4M267.2 291.9v3.4M302.8 297.7h3.4M304.5 296.0v3.4M272.2 288.6h3.4M273.9 286.9v3.4M296.4 279.1h3.4M298.1 277.4v3.4M302.7 283.2h3.4M304.4 281.5v3.4M312.4 244.2h3.4M314.1 242.5v3.4M265.9 292.6h3.4M267.6 290.9v3.4M335.0 185.0h3.4M336.7 183.3v3.4M276.7 297.9h3.4M278.4 296.2v3.4M352.2 188.7h3.4M353.9 187.0v3.4M313.3 252.1h3.4M315.0 250.4v3.4M297.1 267.7h3.4M298.8 266.0v3.4M350.5 189.0h3.4M352.2 187.3v3.4M288.8 304.3h3.4M290.5 302.6v3.4M328.4 215.3h3.4M330.1 213.6v3.4M325.4 252.3h3.4M327.1 250.6v3.4M284.3 302.1h3.4M286.0 300.4v3.4M305.1 258.1h3.4M306.8 256.4v3.4M273.9 297.9h3.4M275.6 296.2v3.4M350.4 188.5h3.4M352.1 186.8v3.4M330.7 245.6h3.4M332.4 243.9v3.4M301.0 276.3h3.4M302.7 274.6v3.4M310.0 292.8h3.4M311.7 291.1v3.4M275.6 294.2h3.4M277.3 292.5v3.4M328.0 223.5h3.4M329.7 221.8v3.4M299.9 276.4h3.4M301.6 274.7v3.4M275.2 282.8h3.4M276.9 281.1v3.4M304.2 271.3h3.4M305.9 269.6v3.4M359.7 163.3h3.4M361.4 161.6v3.4M343.3 212.2h3.4M345.0 210.5v3.4M314.6 253.5h3.4M316.3 251.8v3.4M328.3 197.2h3.4M330.0 195.5v3.4M347.9 206.9h3.4M349.6 205.2v3.4M312.7 284.2h3.4M314.4 282.5v3.4M294.1 299.0h3.4M295.8 297.3v3.4M334.2 176.3h3.4M335.9 174.6v3.4M345.9 165.9h3.4M347.6 164.2v3.4M359.1 171.9h3.4M360.8 170.2v3.4M357.9 162.2h3.4M359.6 160.5v3.4M342.6 175.4h3.4M344.3 173.7v3.4M317.0 255.4h3.4M318.7 253.7v3.4M349.4 180.8h3.4M351.1 179.1v3.4M305.6 274.8h3.4M307.3 273.1v3.4M304.0 250.2h3.4M305.7 248.5v3.4M311.1 296.7h3.4M312.8 295.0v3.4M324.4 229.6h3.4M326.1 227.9v3.4M356.4 152.3h3.4M358.1 150.6v3.4M260.5 297.7h3.4M262.2 296.0v3.4M334.8 186.4h3.4M336.5 184.7v3.4M311.5 271.0h3.4M313.2 269.3v3.4M334.7 235.3h3.4M336.4 233.6v3.4M319.5 253.0h3.4M321.2 251.3v3.4M335.1 174.3h3.4M336.8 172.6v3.4M338.0 204.3h3.4M339.7 202.6v3.4M311.0 271.9h3.4M312.7 270.2v3.4M303.8 280.4h3.4M305.5 278.7v3.4M264.2 291.6h3.4M265.9 289.9v3.4M324.6 235.9h3.4M326.3 234.2v3.4M321.0 274.4h3.4M322.7 272.7v3.4M324.8 234.4h3.4M326.5 232.7v3.4M329.7 185.6h3.4M331.4 183.9v3.4M346.7 204.4h3.4M348.4 202.7v3.4M322.6 258.8h3.4M324.3 257.1v3.4M322.0 260.6h3.4M323.7 258.9v3.4M315.9 233.9h3.4M317.6 232.2v3.4M294.5 280.4h3.4M296.2 278.7v3.4M322.7 234.9h3.4M324.4 233.2v3.4M351.0 161.3h3.4M352.7 159.6v3.4M321.2 222.6h3.4M322.9 220.9v3.4M361.0 165.4h3.4M362.7 163.7v3.4M269.0 291.2h3.4M270.7 289.5v3.4M357.2 182.3h3.4M358.9 180.6v3.4M347.6 206.3h3.4M349.3 204.6v3.4M301.9 255.2h3.4M303.6 253.5v3.4M357.1 172.0h3.4M358.8 170.3v3.4M302.7 286.5h3.4M304.4 284.8v3.4M316.1 249.0h3.4M317.8 247.3v3.4M329.9 228.8h3.4M331.6 227.1v3.4M348.0 179.0h3.4M349.7 177.3v3.4M335.9 226.2h3.4M337.6 224.5v3.4M341.9 212.0h3.4M343.6 210.3v3.4M268.2 292.8h3.4M269.9 291.1v3.4M331.4 219.8h3.4M333.1 218.1v3.4M348.0 163.8h3.4M349.7 162.1v3.4M284.9 280.6h3.4M286.6 278.9v3.4M315.5 272.3h3.4M317.2 270.6v3.4M297.6 292.4h3.4M299.3 290.7v3.4M368.1 162.8h3.4M369.8 161.1v3.4M352.4 156.1h3.4M354.1 154.4v3.4M287.9 287.1h3.4M289.6 285.4v3.4M333.7 220.5h3.4M335.4 218.8v3.4M363.2 163.3h3.4M364.9 161.6v3.4M293.6 293.0h3.4M295.3 291.3v3.4M359.8 177.9h3.4M361.5 176.2v3.4M301.3 299.5h3.4M303.0 297.8v3.4M291.2 288.8h3.4M292.9 287.1v3.4M340.0 209.2h3.4M341.7 207.5v3.4M347.4 160.0h3.4M349.1 158.3v3.4M291.7 295.3h3.4M293.4 293.6v3.4M350.2 198.0h3.4M351.9 196.3v3.4M371.7 165.1h3.4M373.4 163.4v3.4M342.7 157.0h3.4M344.4 155.3v3.4M285.4 288.7h3.4M287.1 287.0v3.4M293.6 270.5h3.4M295.3 268.8v3.4M301.7 292.7h3.4M303.4 291.0v3.4M368.2 170.7h3.4M369.9 169.0v3.4M358.0 171.7h3.4M359.7 170.0v3.4M352.6 162.8h3.4M354.3 161.1v3.4M284.7 294.0h3.4M286.4 292.3v3.4M346.4 174.1h3.4M348.1 172.4v3.4M308.5 245.5h3.4M310.2 243.8v3.4M287.2 290.5h3.4M288.9 288.8v3.4M339.9 195.5h3.4M341.6 193.8v3.4M348.3 164.7h3.4M350.0 163.0v3.4M309.8 275.4h3.4M311.5 273.7v3.4M301.4 301.3h3.4M303.1 299.6v3.4M317.0 251.5h3.4M318.7 249.8v3.4M312.7 293.3h3.4M314.4 291.6v3.4M303.0 279.8h3.4M304.7 278.1v3.4M345.7 190.8h3.4M347.4 189.1v3.4M300.6 267.7h3.4M302.3 266.0v3.4M274.1 298.2h3.4M275.8 296.5v3.4M306.0 295.3h3.4M307.7 293.6v3.4M338.8 195.2h3.4M340.5 193.5v3.4M345.0 193.6h3.4M346.7 191.9v3.4M292.3 289.2h3.4M294.0 287.5v3.4M322.9 262.9h3.4M324.6 261.2v3.4M282.2 301.8h3.4M283.9 300.1v3.4M276.7 283.7h3.4M278.4 282.0v3.4M324.9 205.3h3.4M326.6 203.6v3.4M290.4 298.7h3.4M292.1 297.0v3.4M340.5 209.6h3.4M342.2 207.9v3.4M302.8 290.7h3.4M304.5 289.0v3.4M326.6 205.7h3.4M328.3 204.0v3.4M266.6 295.1h3.4M268.3 293.4v3.4M360.0 161.5h3.4M361.7 159.8v3.4M304.6 276.5h3.4M306.3 274.8v3.4M339.5 206.9h3.4M341.2 205.2v3.4M355.1 165.6h3.4M356.8 163.9v3.4M296.8 287.3h3.4M298.5 285.6v3.4M313.1 293.8h3.4M314.8 292.1v3.4M298.6 272.6h3.4M300.3 270.9v3.4M314.0 281.9h3.4M315.7 280.2v3.4M309.9 275.0h3.4M311.6 273.3v3.4M335.8 199.7h3.4M337.5 198.0v3.4M331.2 224.3h3.4M332.9 222.6v3.4M269.0 293.4h3.4M270.7 291.7v3.4M315.1 253.5h3.4M316.8 251.8v3.4M360.8 173.7h3.4M362.5 172.0v3.4M323.7 228.3h3.4M325.4 226.6v3.4M299.0 295.9h3.4M300.7 294.2v3.4M327.8 187.1h3.4M329.5 185.4v3.4M316.9 263.2h3.4M318.6 261.5v3.4M306.6 276.5h3.4M308.3 274.8v3.4M360.0 178.3h3.4M361.7 176.6v3.4M298.4 290.8h3.4M300.1 289.1v3.4M341.3 158.2h3.4M343.0 156.5v3.4M340.1 157.3h3.4M341.8 155.6v3.4M260.9 293.4h3.4M262.6 291.7v3.4M336.5 163.1h3.4M338.2 161.4v3.4M305.1 283.6h3.4M306.8 281.9v3.4M282.8 279.5h3.4M284.5 277.8v3.4M284.6 288.0h3.4M286.3 286.3v3.4M326.4 243.3h3.4M328.1 241.6v3.4M320.5 257.1h3.4M322.2 255.4v3.4M334.7 181.3h3.4M336.4 179.6v3.4M337.0 223.1h3.4M338.7 221.4v3.4M348.5 176.9h3.4M350.2 175.2v3.4M320.7 249.9h3.4M322.4 248.2v3.4M363.0 170.1h3.4M364.7 168.4v3.4M347.6 198.6h3.4M349.3 196.9v3.4M309.9 248.0h3.4M311.6 246.3v3.4M306.8 284.6h3.4M308.5 282.9v3.4M330.6 226.7h3.4M332.3 225.0v3.4M346.3 200.8h3.4M348.0 199.1v3.4M333.3 229.1h3.4M335.0 227.4v3.4M362.7 157.6h3.4M364.4 155.9v3.4M337.8 212.8h3.4M339.5 211.1v3.4M350.7 188.0h3.4M352.4 186.3v3.4M334.6 230.4h3.4M336.3 228.7v3.4M329.3 233.9h3.4M331.0 232.2v3.4M295.7 287.2h3.4M297.4 285.5v3.4M338.1 157.5h3.4M339.8 155.8v3.4M289.9 292.1h3.4M291.6 290.4v3.4M301.9 291.0h3.4M303.6 289.3v3.4M341.4 203.5h3.4M343.1 201.8v3.4M342.0 155.5h3.4M343.7 153.8v3.4M355.7 158.8h3.4M357.4 157.1v3.4M348.6 157.6h3.4M350.3 155.9v3.4M334.8 231.5h3.4M336.5 229.8v3.4M351.1 154.8h3.4M352.8 153.1v3.4M338.8 167.0h3.4M340.5 165.3v3.4M305.9 279.2h3.4M307.6 277.5v3.4M296.5 302.1h3.4M298.2 300.4v3.4M287.5 288.6h3.4M289.2 286.9v3.4M337.6 189.4h3.4M339.3 187.7v3.4M335.1 217.3h3.4M336.8 215.6v3.4M313.0 290.2h3.4M314.7 288.5v3.4M306.6 271.7h3.4M308.3 270.0v3.4M333.7 215.8h3.4M335.4 214.1v3.4M335.7 209.5h3.4M337.4 207.8v3.4M328.2 227.0h3.4M329.9 225.3v3.4M350.4 180.1h3.4M352.1 178.4v3.4M307.9 260.1h3.4M309.6 258.4v3.4M340.8 172.9h3.4M342.5 171.2v3.4M340.3 208.6h3.4M342.0 206.9v3.4M322.3 248.1h3.4M324.0 246.4v3.4M269.9 285.4h3.4M271.6 283.7v3.4M311.6 239.8h3.4M313.3 238.1v3.4M324.7 241.0h3.4M326.4 239.3v3.4M355.6 185.3h3.4M357.3 183.6v3.4M322.8 209.1h3.4M324.5 207.4v3.4M319.0 223.2h3.4M320.7 221.5v3.4M334.2 237.6h3.4M335.9 235.9v3.4M349.8 152.4h3.4M351.5 150.7v3.4M332.2 172.9h3.4M333.9 171.2v3.4M309.1 253.3h3.4M310.8 251.6v3.4M323.1 234.9h3.4M324.8 233.2v3.4M288.5 271.6h3.4M290.2 269.9v3.4M353.0 192.9h3.4M354.7 191.2v3.4M343.9 201.6h3.4M345.6 199.9v3.4M357.4 168.6h3.4M359.1 166.9v3.4M288.8 288.9h3.4M290.5 287.2v3.4M344.4 203.5h3.4M346.1 201.8v3.4M336.1 177.7h3.4M337.8 176.0v3.4M299.7 285.7h3.4M301.4 284.0v3.4M341.6 202.6h3.4M343.3 200.9v3.4M335.1 211.3h3.4M336.8 209.6v3.4M313.4 262.6h3.4M315.1 260.9v3.4M281.4 302.0h3.4M283.1 300.3v3.4M302.9 263.5h3.4M304.6 261.8v3.4M310.0 283.3h3.4M311.7 281.6v3.4M308.4 280.4h3.4M310.1 278.7v3.4M348.0 159.3h3.4M349.7 157.6v3.4M299.0 272.2h3.4M300.7 270.5v3.4M310.2 297.9h3.4M311.9 296.2v3.4M333.0 225.3h3.4M334.7 223.6v3.4M272.9 299.9h3.4M274.6 298.2v3.4M309.3 291.9h3.4M311.0 290.2v3.4M338.5 182.4h3.4M340.2 180.7v3.4M286.7 278.6h3.4M288.4 276.9v3.4M369.0 162.3h3.4M370.7 160.6v3.4M352.6 160.6h3.4M354.3 158.9v3.4M327.5 219.1h3.4M329.2 217.4v3.4M276.8 293.6h3.4M278.5 291.9v3.4M323.0 272.5h3.4M324.7 270.8v3.4M334.1 235.1h3.4M335.8 233.4v3.4M290.1 292.0h3.4M291.8 290.3v3.4M346.6 162.7h3.4M348.3 161.0v3.4M288.5 286.9h3.4M290.2 285.2v3.4M370.8 164.9h3.4M372.5 163.2v3.4M305.7 261.7h3.4M307.4 260.0v3.4M294.4 305.1h3.4M296.1 303.4v3.4M358.4 167.1h3.4M360.1 165.4v3.4M312.6 261.5h3.4M314.3 259.8v3.4M265.5 292.9h3.4M267.2 291.2v3.4M333.2 212.5h3.4M334.9 210.8v3.4M328.0 198.8h3.4M329.7 197.1v3.4M355.5 183.2h3.4M357.2 181.5v3.4M320.1 225.2h3.4M321.8 223.5v3.4M309.5 238.4h3.4M311.2 236.7v3.4M346.2 158.8h3.4M347.9 157.1v3.4M308.8 264.1h3.4M310.5 262.4v3.4M288.0 291.6h3.4M289.7 289.9v3.4M306.1 278.6h3.4M307.8 276.9v3.4M355.2 170.0h3.4M356.9 168.3v3.4M321.8 268.5h3.4M323.5 266.8v3.4M288.4 291.0h3.4M290.1 289.3v3.4M364.6 160.6h3.4M366.3 158.9v3.4M320.9 233.9h3.4M322.6 232.2v3.4M291.5 297.3h3.4M293.2 295.6v3.4M314.8 256.5h3.4M316.5 254.8v3.4M323.3 238.5h3.4M325.0 236.8v3.4M345.7 197.4h3.4M347.4 195.7v3.4M276.2 294.0h3.4M277.9 292.3v3.4M323.3 240.1h3.4M325.0 238.4v3.4M347.6 196.1h3.4M349.3 194.4v3.4M326.2 220.0h3.4M327.9 218.3v3.4M292.8 297.9h3.4M294.5 296.2v3.4M315.9 232.3h3.4M317.6 230.6v3.4M299.5 286.1h3.4M301.2 284.4v3.4M334.5 173.7h3.4M336.2 172.0v3.4M281.4 290.1h3.4M283.1 288.4v3.4M271.1 286.3h3.4M272.8 284.6v3.4M334.0 209.1h3.4M335.7 207.4v3.4M330.0 203.1h3.4M331.7 201.4v3.4M306.4 289.4h3.4M308.1 287.7v3.4M297.7 269.5h3.4M299.4 267.8v3.4M316.8 248.1h3.4M318.5 246.4v3.4M335.3 176.2h3.4M337.0 174.5v3.4M269.8 295.5h3.4M271.5 293.8v3.4M308.3 256.9h3.4M310.0 255.2v3.4M284.4 291.2h3.4M286.1 289.5v3.4M289.1 282.2h3.4M290.8 280.5v3.4M271.6 299.1h3.4M273.3 297.4v3.4M295.8 270.8h3.4M297.5 269.1v3.4M324.2 225.5h3.4M325.9 223.8v3.4M333.4 236.6h3.4M335.1 234.9v3.4M333.7 225.2h3.4M335.4 223.5v3.4M349.1 178.8h3.4M350.8 177.1v3.4M294.2 297.8h3.4M295.9 296.1v3.4M312.4 250.3h3.4M314.1 248.6v3.4M300.5 287.3h3.4M302.2 285.6v3.4M278.9 297.1h3.4M280.6 295.4v3.4M264.1 295.6h3.4M265.8 293.9v3.4M321.2 248.3h3.4M322.9 246.6v3.4M304.8 255.3h3.4M306.5 253.6v3.4M297.6 281.4h3.4M299.3 279.7v3.4M299.6 260.6h3.4M301.3 258.9v3.4M313.1 290.2h3.4M314.8 288.5v3.4M306.9 252.9h3.4M308.6 251.2v3.4M275.2 296.3h3.4M276.9 294.6v3.4M319.2 252.3h3.4M320.9 250.6v3.4M328.5 216.6h3.4M330.2 214.9v3.4M316.4 264.1h3.4M318.1 262.4v3.4M358.3 158.5h3.4M360.0 156.8v3.4M352.5 176.5h3.4M354.2 174.8v3.4M292.4 291.1h3.4M294.1 289.4v3.4M332.0 225.9h3.4M333.7 224.2v3.4M290.3 283.8h3.4M292.0 282.1v3.4M276.3 281.8h3.4M278.0 280.1v3.4M343.1 176.3h3.4M344.8 174.6v3.4M313.8 248.8h3.4M315.5 247.1v3.4M345.0 196.1h3.4M346.7 194.4v3.4M288.1 277.4h3.4M289.8 275.7v3.4M367.2 167.9h3.4M368.9 166.2v3.4M318.6 228.1h3.4M320.3 226.4v3.4M279.5 278.1h3.4M281.2 276.4v3.4M306.2 269.3h3.4M307.9 267.6v3.4M341.7 191.4h3.4M343.4 189.7v3.4M343.7 195.4h3.4M345.4 193.7v3.4M305.6 244.1h3.4M307.3 242.4v3.4M333.7 194.2h3.4M335.4 192.5v3.4M326.4 241.9h3.4M328.1 240.2v3.4M347.7 164.2h3.4M349.4 162.5v3.4M318.8 235.3h3.4M320.5 233.6v3.4M297.7 294.8h3.4M299.4 293.1v3.4M346.3 210.1h3.4M348.0 208.4v3.4M319.1 236.8h3.4M320.8 235.1v3.4M282.0 285.7h3.4M283.7 284.0v3.4M293.4 289.0h3.4M295.1 287.3v3.4M372.4 163.8h3.4M374.1 162.1v3.4M298.1 291.0h3.4M299.8 289.3v3.4M351.4 189.1h3.4M353.1 187.4v3.4M353.0 188.3h3.4M354.7 186.6v3.4M339.4 181.1h3.4M341.1 179.4v3.4M332.0 183.0h3.4M333.7 181.3v3.4M259.1 297.5h3.4M260.8 295.8v3.4M348.7 177.9h3.4M350.4 176.2v3.4M346.5 195.0h3.4M348.2 193.3v3.4M266.6 296.7h3.4M268.3 295.0v3.4M337.0 185.2h3.4M338.7 183.5v3.4M307.6 276.5h3.4M309.3 274.8v3.4M340.8 190.4h3.4M342.5 188.7v3.4M352.7 184.2h3.4M354.4 182.5v3.4M362.2 162.2h3.4M363.9 160.5v3.4M340.5 213.0h3.4M342.2 211.3v3.4M285.8 303.4h3.4M287.5 301.7v3.4M336.1 159.2h3.4M337.8 157.5v3.4M351.9 178.1h3.4M353.6 176.4v3.4M347.6 186.8h3.4M349.3 185.1v3.4M273.1 290.0h3.4M274.8 288.3v3.4M292.2 298.1h3.4M293.9 296.4v3.4M321.2 252.5h3.4M322.9 250.8v3.4M330.7 213.3h3.4M332.4 211.6v3.4M312.0 251.0h3.4M313.7 249.3v3.4M313.4 246.5h3.4M315.1 244.8v3.4M288.3 300.2h3.4M290.0 298.5v3.4M306.2 270.0h3.4M307.9 268.3v3.4M319.0 253.5h3.4M320.7 251.8v3.4M310.4 263.5h3.4M312.1 261.8v3.4M332.8 215.2h3.4M334.5 213.5v3.4M333.8 248.1h3.4M335.5 246.4v3.4M291.2 298.2h3.4M292.9 296.5v3.4M318.0 235.3h3.4M319.7 233.6v3.4M337.8 230.9h3.4M339.5 229.2v3.4M358.9 160.6h3.4M360.6 158.9v3.4M325.3 201.9h3.4M327.0 200.2v3.4M323.2 264.5h3.4M324.9 262.8v3.4M344.3 173.2h3.4M346.0 171.5v3.4M268.3 286.5h3.4M270.0 284.8v3.4M305.1 288.5h3.4M306.8 286.8v3.4M291.5 302.8h3.4M293.2 301.1v3.4M297.7 302.8h3.4M299.4 301.1v3.4M294.4 282.1h3.4M296.1 280.4v3.4M343.2 206.3h3.4M344.9 204.6v3.4M331.3 213.8h3.4M333.0 212.1v3.4M362.9 170.6h3.4M364.6 168.9v3.4M360.9 172.5h3.4M362.6 170.8v3.4M356.3 191.0h3.4M358.0 189.3v3.4M346.1 204.1h3.4M347.8 202.4v3.4M325.3 229.9h3.4M327.0 228.2v3.4M335.5 175.0h3.4M337.2 173.3v3.4M306.5 242.2h3.4M308.2 240.5v3.4M354.5 166.6h3.4M356.2 164.9v3.4M321.4 218.1h3.4M323.1 216.4v3.4M325.0 206.3h3.4M326.7 204.6v3.4M295.7 267.2h3.4M297.4 265.5v3.4M283.5 295.1h3.4M285.2 293.4v3.4M358.3 179.8h3.4M360.0 178.1v3.4M332.5 175.7h3.4M334.2 174.0v3.4M311.4 290.5h3.4M313.1 288.8v3.4M316.7 291.9h3.4M318.4 290.2v3.4M336.5 187.7h3.4M338.2 186.0v3.4M306.1 299.5h3.4M307.8 297.8v3.4M341.8 213.8h3.4M343.5 212.1v3.4M348.1 186.3h3.4M349.8 184.6v3.4M287.2 281.7h3.4M288.9 280.0v3.4M359.8 155.2h3.4M361.5 153.5v3.4M352.0 150.8h3.4M353.7 149.1v3.4M338.3 161.2h3.4M340.0 159.5v3.4M332.1 236.2h3.4M333.8 234.5v3.4M343.2 164.3h3.4M344.9 162.6v3.4M331.5 208.5h3.4M333.2 206.8v3.4M335.5 228.5h3.4M337.2 226.8v3.4M313.0 279.1h3.4M314.7 277.4v3.4M340.4 211.6h3.4M342.1 209.9v3.4M350.0 159.3h3.4M351.7 157.6v3.4M298.5 294.9h3.4M300.2 293.2v3.4M301.1 296.9h3.4M302.8 295.2v3.4M309.1 240.5h3.4M310.8 238.8v3.4M291.5 286.0h3.4M293.2 284.3v3.4M309.2 244.6h3.4M310.9 242.9v3.4M300.6 283.7h3.4M302.3 282.0v3.4M321.0 265.0h3.4M322.7 263.3v3.4M291.6 268.3h3.4M293.3 266.6v3.4M274.1 285.2h3.4M275.8 283.5v3.4M301.1 285.0h3.4M302.8 283.3v3.4M330.1 211.7h3.4M331.8 210.0v3.4M266.7 297.5h3.4M268.4 295.8v3.4M281.0 285.3h3.4M282.7 283.6v3.4M341.3 200.2h3.4M343.0 198.5v3.4M281.9 293.8h3.4M283.6 292.1v3.4M352.9 168.6h3.4M354.6 166.9v3.4M313.1 237.7h3.4M314.8 236.0v3.4M353.8 154.1h3.4M355.5 152.4v3.4M312.0 251.1h3.4M313.7 249.4v3.4M300.9 298.1h3.4M302.6 296.4v3.4M345.7 205.3h3.4M347.4 203.6v3.4M341.7 219.4h3.4M343.4 217.7v3.4M308.1 301.5h3.4M309.8 299.8v3.4M364.4 180.0h3.4M366.1 178.3v3.4M345.5 176.8h3.4M347.2 175.1v3.4M285.5 284.5h3.4M287.2 282.8v3.4M312.2 291.7h3.4M313.9 290.0v3.4M340.4 189.7h3.4M342.1 188.0v3.4M352.0 199.8h3.4M353.7 198.1v3.4M359.0 179.0h3.4M360.7 177.3v3.4M321.1 218.7h3.4M322.8 217.0v3.4M325.9 219.3h3.4M327.6 217.6v3.4M356.1 165.2h3.4M357.8 163.5v3.4M265.2 292.4h3.4M266.9 290.7v3.4M333.5 227.0h3.4M335.2 225.3v3.4M317.6 260.7h3.4M319.3 259.0v3.4M349.5 161.5h3.4M351.2 159.8v3.4M340.5 179.1h3.4M342.2 177.4v3.4M321.3 220.7h3.4M323.0 219.0v3.4M349.1 173.6h3.4M350.8 171.9v3.4M332.3 182.2h3.4M334.0 180.5v3.4M297.4 271.0h3.4M299.1 269.3v3.4M328.0 237.4h3.4M329.7 235.7v3.4M368.0 160.7h3.4M369.7 159.0v3.4M345.8 168.8h3.4M347.5 167.1v3.4M351.9 155.8h3.4M353.6 154.1v3.4M280.9 301.9h3.4M282.6 300.2v3.4M329.7 186.4h3.4M331.4 184.7v3.4M300.4 281.3h3.4M302.1 279.6v3.4M315.4 242.6h3.4M317.1 240.9v3.4M324.0 245.2h3.4M325.7 243.5v3.4M295.7 285.1h3.4M297.4 283.4v3.4M290.7 291.2h3.4M292.4 289.5v3.4M264.6 296.4h3.4M266.3 294.7v3.4M343.7 172.9h3.4M345.4 171.2v3.4M291.8 302.0h3.4M293.5 300.3v3.4M307.7 271.5h3.4M309.4 269.8v3.4M363.2 160.0h3.4M364.9 158.3v3.4M372.2 158.8h3.4M373.9 157.1v3.4M359.6 161.2h3.4M361.3 159.5v3.4M335.1 148.8h3.4M336.8 147.1v3.4M345.5 163.7h3.4M347.2 162.0v3.4M345.0 162.3h3.4M346.7 160.6v3.4M355.0 155.8h3.4M356.7 154.1v3.4M377.2 150.1h3.4M378.9 148.4v3.4M370.2 147.1h3.4M371.9 145.4v3.4M373.1 136.6h3.4M374.8 134.9v3.4M346.7 147.7h3.4M348.4 146.0v3.4M363.7 161.3h3.4M365.4 159.6v3.4M366.0 156.2h3.4M367.7 154.5v3.4M342.0 134.3h3.4M343.7 132.6v3.4M344.8 157.4h3.4M346.5 155.7v3.4M352.1 134.2h3.4M353.8 132.5v3.4M334.3 148.7h3.4M336.0 147.0v3.4M334.1 157.1h3.4M335.8 155.4v3.4M348.5 147.1h3.4M350.2 145.4v3.4M343.2 157.5h3.4M344.9 155.8v3.4M358.6 153.8h3.4M360.3 152.1v3.4M333.0 160.4h3.4M334.7 158.7v3.4M345.6 152.2h3.4M347.3 150.5v3.4M351.5 163.5h3.4M353.2 161.8v3.4M332.5 159.2h3.4M334.2 157.5v3.4M348.6 148.3h3.4M350.3 146.6v3.4M369.8 136.6h3.4M371.5 134.9v3.4M344.9 137.7h3.4M346.6 136.0v3.4M355.2 130.4h3.4M356.9 128.7v3.4M338.0 131.6h3.4M339.7 129.9v3.4M336.9 161.6h3.4M338.6 159.9v3.4M353.1 147.7h3.4M354.8 146.0v3.4M363.3 131.0h3.4M365.0 129.3v3.4M357.0 144.2h3.4M358.7 142.5v3.4M335.5 135.2h3.4M337.2 133.5v3.4M331.4 142.5h3.4M333.1 140.8v3.4M372.0 138.2h3.4M373.7 136.5v3.4M343.4 160.8h3.4M345.1 159.1v3.4M333.8 162.9h3.4M335.5 161.2v3.4M347.8 148.0h3.4M349.5 146.3v3.4M355.4 159.7h3.4M357.1 158.0v3.4M360.4 141.1h3.4M362.1 139.4v3.4M363.6 136.0h3.4M365.3 134.3v3.4M343.7 158.0h3.4M345.4 156.3v3.4M345.6 146.0h3.4M347.3 144.3v3.4M336.8 153.7h3.4M338.5 152.0v3.4M338.2 153.8h3.4M339.9 152.1v3.4M331.9 151.2h3.4M333.6 149.5v3.4M334.4 152.2h3.4M336.1 150.5v3.4M333.4 139.7h3.4M335.1 138.0v3.4M369.3 160.3h3.4M371.0 158.6v3.4M373.0 153.6h3.4M374.7 151.9v3.4M371.9 131.9h3.4M373.6 130.2v3.4M359.6 157.4h3.4M361.3 155.7v3.4M336.5 132.9h3.4M338.2 131.2v3.4M362.5 130.7h3.4M364.2 129.0v3.4M370.4 139.3h3.4M372.1 137.6v3.4M376.7 141.7h3.4M378.4 140.0v3.4M348.7 161.3h3.4M350.4 159.6v3.4M337.9 145.7h3.4M339.6 144.0v3.4M340.0 143.4h3.4M341.7 141.7v3.4M369.8 154.0h3.4M371.5 152.3v3.4M357.4 124.9h3.4M359.1 123.2v3.4M345.7 121.1h3.4M347.4 119.4v3.4M341.2 137.7h3.4M342.9 136.0v3.4M368.4 127.3h3.4M370.1 125.6v3.4M342.1 146.9h3.4M343.8 145.2v3.4M369.2 147.2h3.4M370.9 145.5v3.4M357.9 145.7h3.4M359.6 144.0v3.4M349.7 151.3h3.4M351.4 149.6v3.4M331.5 138.2h3.4M333.2 136.5v3.4M348.8 148.7h3.4M350.5 147.0v3.4M356.6 152.8h3.4M358.3 151.1v3.4M376.5 140.3h3.4M378.2 138.6v3.4M357.5 160.1h3.4M359.2 158.4v3.4M346.2 153.0h3.4M347.9 151.3v3.4M344.7 146.2h3.4M346.4 144.5v3.4M345.9 145.3h3.4M347.6 143.6v3.4M369.7 154.5h3.4M371.4 152.8v3.4M368.2 153.7h3.4M369.9 152.0v3.4M367.4 162.1h3.4M369.1 160.4v3.4M332.9 142.7h3.4M334.6 141.0v3.4M344.2 140.4h3.4M345.9 138.7v3.4M371.0 150.1h3.4M372.7 148.4v3.4M359.4 131.5h3.4M361.1 129.8v3.4M345.6 158.3h3.4M347.3 156.6v3.4M358.9 150.9h3.4M360.6 149.2v3.4M340.6 157.2h3.4M342.3 155.5v3.4M351.7 136.8h3.4M353.4 135.1v3.4M364.7 153.3h3.4M366.4 151.6v3.4M338.5 157.0h3.4M340.2 155.3v3.4M376.3 153.7h3.4M378.0 152.0v3.4M330.8 146.1h3.4M332.5 144.4v3.4M337.0 156.2h3.4M338.7 154.5v3.4M354.5 136.3h3.4M356.2 134.6v3.4M363.8 150.5h3.4M365.5 148.8v3.4M370.6 161.7h3.4M372.3 160.0v3.4M336.1 147.0h3.4M337.8 145.3v3.4M341.2 151.4h3.4M342.9 149.7v3.4M354.9 157.8h3.4M356.6 156.1v3.4M370.1 153.6h3.4M371.8 151.9v3.4M374.4 136.7h3.4M376.1 135.0v3.4M361.8 146.9h3.4M363.5 145.2v3.4M338.6 147.9h3.4M340.3 146.2v3.4M358.5 150.7h3.4M360.2 149.0v3.4M350.7 153.4h3.4M352.4 151.7v3.4M366.6 153.2h3.4M368.3 151.5v3.4M331.0 152.7h3.4M332.7 151.0v3.4M347.7 156.9h3.4M349.4 155.2v3.4M348.0 152.8h3.4M349.7 151.1v3.4M332.2 146.0h3.4M333.9 144.3v3.4M355.1 135.4h3.4M356.8 133.7v3.4M334.1 160.7h3.4M335.8 159.0v3.4M352.8 153.5h3.4M354.5 151.8v3.4M339.3 146.6h3.4M341.0 144.9v3.4M361.5 156.4h3.4M363.2 154.7v3.4M363.5 153.5h3.4M365.2 151.8v3.4M373.4 151.0h3.4M375.1 149.3v3.4M357.1 161.2h3.4M358.8 159.5v3.4M369.7 134.4h3.4M371.4 132.7v3.4M358.7 128.4h3.4M360.4 126.7v3.4M362.7 143.9h3.4M364.4 142.2v3.4M364.1 149.6h3.4M365.8 147.9v3.4M373.8 154.9h3.4M375.5 153.2v3.4M359.9 146.1h3.4M361.6 144.4v3.4M344.9 131.3h3.4M346.6 129.6v3.4M336.3 124.3h3.4M338.0 122.6v3.4M353.7 161.3h3.4M355.4 159.6v3.4M376.2 155.7h3.4M377.9 154.0v3.4M344.6 163.0h3.4M346.3 161.3v3.4M376.6 145.9h3.4M378.3 144.2v3.4M358.5 152.1h3.4M360.2 150.4v3.4M361.2 159.7h3.4M362.9 158.0v3.4M358.3 155.6h3.4M360.0 153.9v3.4M340.0 147.2h3.4M341.7 145.5v3.4M360.1 152.4h3.4M361.8 150.7v3.4M373.5 156.5h3.4M375.2 154.8v3.4M373.0 150.6h3.4M374.7 148.9v3.4M342.5 145.4h3.4M344.2 143.7v3.4M355.6 136.1h3.4M357.3 134.4v3.4M370.8 159.7h3.4M372.5 158.0v3.4M337.3 151.2h3.4M339.0 149.5v3.4M363.9 155.4h3.4M365.6 153.7v3.4M363.5 157.0h3.4M365.2 155.3v3.4M374.7 137.4h3.4M376.4 135.7v3.4M364.2 136.6h3.4M365.9 134.9v3.4M347.9 139.1h3.4M349.6 137.4v3.4M333.1 151.9h3.4M334.8 150.2v3.4M341.9 162.3h3.4M343.6 160.6v3.4M357.9 143.2h3.4M359.6 141.5v3.4M348.0 151.5h3.4M349.7 149.8v3.4M364.3 144.8h3.4M366.0 143.1v3.4M349.1 155.9h3.4M350.8 154.2v3.4M366.9 143.2h3.4M368.6 141.5v3.4M351.4 132.3h3.4M353.1 130.6v3.4M333.9 155.1h3.4M335.6 153.4v3.4M354.7 162.6h3.4M356.4 160.9v3.4M367.7 132.8h3.4M369.4 131.1v3.4M332.4 161.1h3.4M334.1 159.4v3.4M366.5 160.6h3.4M368.2 158.9v3.4M334.6 160.6h3.4M336.3 158.9v3.4M363.8 150.6h3.4M365.5 148.9v3.4M352.2 150.5h3.4M353.9 148.8v3.4M354.8 122.0h3.4M356.5 120.3v3.4M368.7 157.9h3.4M370.4 156.2v3.4M347.2 127.0h3.4M348.9 125.3v3.4M368.3 154.9h3.4M370.0 153.2v3.4M369.4 150.1h3.4M371.1 148.4v3.4M350.0 156.3h3.4M351.7 154.6v3.4M331.3 142.3h3.4M333.0 140.6v3.4M349.0 135.0h3.4M350.7 133.3v3.4M349.7 157.9h3.4M351.4 156.2v3.4M375.4 156.0h3.4M377.1 154.3v3.4M347.2 164.0h3.4M348.9 162.3v3.4M336.6 136.3h3.4M338.3 134.6v3.4M353.2 144.1h3.4M354.9 142.4v3.4M368.6 150.9h3.4M370.3 149.2v3.4M335.2 153.5h3.4M336.9 151.8v3.4M343.8 157.8h3.4M345.5 156.1v3.4M371.7 138.1h3.4M373.4 136.4v3.4M339.1 158.9h3.4M340.8 157.2v3.4M340.5 159.6h3.4M342.2 157.9v3.4M332.9 137.2h3.4M334.6 135.5v3.4M361.0 151.3h3.4M362.7 149.6v3.4M372.3 155.9h3.4M374.0 154.2v3.4M358.2 152.6h3.4M359.9 150.9v3.4M357.0 158.9h3.4M358.7 157.2v3.4M375.5 146.5h3.4M377.2 144.8v3.4M346.1 153.7h3.4M347.8 152.0v3.4M348.4 132.3h3.4M350.1 130.6v3.4M340.4 141.4h3.4M342.1 139.7v3.4M358.9 147.0h3.4M360.6 145.3v3.4M359.4 157.8h3.4M361.1 156.1v3.4M374.6 157.7h3.4M376.3 156.0v3.4M357.5 153.4h3.4M359.2 151.7v3.4M363.2 149.8h3.4M364.9 148.1v3.4M368.4 141.3h3.4M370.1 139.6v3.4M355.5 150.8h3.4M357.2 149.1v3.4M365.5 159.2h3.4M367.2 157.5v3.4M341.7 144.4h3.4M343.4 142.7v3.4M366.5 157.9h3.4M368.2 156.2v3.4M348.0 153.6h3.4M349.7 151.9v3.4M349.8 137.0h3.4M351.5 135.3v3.4M350.3 161.0h3.4M352.0 159.3v3.4M340.0 162.9h3.4M341.7 161.2v3.4M367.1 141.5h3.4M368.8 139.8v3.4M351.6 127.3h3.4M353.3 125.6v3.4M361.6 143.9h3.4M363.3 142.2v3.4M352.6 148.2h3.4M354.3 146.5v3.4M346.3 158.7h3.4M348.0 157.0v3.4M358.6 152.4h3.4M360.3 150.7v3.4M364.6 159.7h3.4M366.3 158.0v3.4M363.0 154.5h3.4M364.7 152.8v3.4M344.3 156.9h3.4M346.0 155.2v3.4M331.9 161.7h3.4M333.6 160.0v3.4M348.5 160.3h3.4M350.2 158.6v3.4M357.1 159.2h3.4M358.8 157.5v3.4M373.7 147.6h3.4M375.4 145.9v3.4M357.0 160.0h3.4M358.7 158.3v3.4M363.5 158.7h3.4M365.2 157.0v3.4M365.2 142.2h3.4M366.9 140.5v3.4M344.2 159.9h3.4M345.9 158.2v3.4M371.6 149.3h3.4M373.3 147.6v3.4M357.2 156.3h3.4M358.9 154.6v3.4M352.6 153.8h3.4M354.3 152.1v3.4M346.6 142.3h3.4M348.3 140.6v3.4M356.1 125.7h3.4M357.8 124.0v3.4M334.4 150.7h3.4M336.1 149.0v3.4M358.9 131.7h3.4M360.6 130.0v3.4M361.5 149.9h3.4M363.2 148.2v3.4M363.0 155.3h3.4M364.7 153.6v3.4M340.0 142.2h3.4M341.7 140.5v3.4M363.1 162.7h3.4M364.8 161.0v3.4M354.6 141.4h3.4M356.3 139.7v3.4M355.8 159.2h3.4M357.5 157.5v3.4M351.6 158.2h3.4M353.3 156.5v3.4M332.2 158.7h3.4M333.9 157.0v3.4M335.0 153.9h3.4M336.7 152.2v3.4M340.4 160.7h3.4M342.1 159.0v3.4M376.1 146.0h3.4M377.8 144.3v3.4M356.9 142.6h3.4M358.6 140.9v3.4M356.9 148.1h3.4M358.6 146.4v3.4M370.6 157.5h3.4M372.3 155.8v3.4M347.4 130.7h3.4M349.1 129.0v3.4M374.6 136.8h3.4M376.3 135.1v3.4M343.2 152.9h3.4M344.9 151.2v3.4M366.5 157.8h3.4M368.2 156.1v3.4M373.1 146.6h3.4M374.8 144.9v3.4M372.6 157.0h3.4M374.3 155.3v3.4M360.9 155.1h3.4M362.6 153.4v3.4M336.8 137.4h3.4M338.5 135.7v3.4M365.4 148.8h3.4M367.1 147.1v3.4M350.0 159.0h3.4M351.7 157.3v3.4M365.5 146.9h3.4M367.2 145.2v3.4M275.9 304.9h3.4M277.6 303.2v3.4M260.8 306.6h3.4M262.5 304.9v3.4M257.0 301.7h3.4M258.7 300.0v3.4M289.9 294.9h3.4M291.6 293.2v3.4M285.9 298.6h3.4M287.6 296.9v3.4M269.2 302.3h3.4M270.9 300.6v3.4M271.7 301.0h3.4M273.4 299.3v3.4M300.3 304.1h3.4M302.0 302.4v3.4M309.5 301.8h3.4M311.2 300.1v3.4M304.1 297.4h3.4M305.8 295.7v3.4M309.0 297.3h3.4M310.7 295.6v3.4M253.8 300.4h3.4M255.5 298.7v3.4M277.7 306.7h3.4M279.4 305.0v3.4M311.9 301.2h3.4M313.6 299.5v3.4M282.7 299.8h3.4M284.4 298.1v3.4M306.6 306.4h3.4M308.3 304.7v3.4M267.9 301.1h3.4M269.6 299.4v3.4M272.7 295.8h3.4M274.4 294.1v3.4M304.5 308.9h3.4M306.2 307.2v3.4M288.1 303.5h3.4M289.8 301.8v3.4M300.6 303.2h3.4M302.3 301.5v3.4M255.1 302.3h3.4M256.8 300.6v3.4M295.2 300.9h3.4M296.9 299.2v3.4M302.3 299.7h3.4M304.0 298.0v3.4M251.2 301.7h3.4M252.9 300.0v3.4M276.8 296.2h3.4M278.5 294.5v3.4M261.4 298.1h3.4M263.1 296.4v3.4M303.4 304.4h3.4M305.1 302.7v3.4M280.8 307.1h3.4M282.5 305.4v3.4M295.1 307.5h3.4M296.8 305.8v3.4M302.2 308.6h3.4M303.9 306.9v3.4M296.9 305.8h3.4M298.6 304.1v3.4M258.9 297.8h3.4M260.6 296.1v3.4M315.8 303.0h3.4M317.5 301.3v3.4M279.3 295.8h3.4M281.0 294.1v3.4M291.8 304.3h3.4M293.5 302.6v3.4M277.2 298.0h3.4M278.9 296.3v3.4M249.0 296.7h3.4M250.7 295.0v3.4M316.5 299.6h3.4M318.2 297.9v3.4M288.4 307.4h3.4M290.1 305.7v3.4M261.5 301.0h3.4M263.2 299.3v3.4M272.0 306.2h3.4M273.7 304.5v3.4M301.0 293.2h3.4M302.7 291.5v3.4M293.4 300.4h3.4M295.1 298.7v3.4M315.5 300.7h3.4M317.2 299.0v3.4M313.9 297.2h3.4M315.6 295.5v3.4M312.3 290.1h3.4M314.0 288.4v3.4M275.9 304.4h3.4M277.6 302.7v3.4M294.4 307.4h3.4M296.1 305.7v3.4M253.2 295.8h3.4M254.9 294.1v3.4M313.7 308.4h3.4M315.4 306.7v3.4M264.5 301.7h3.4M266.2 300.0v3.4M310.4 308.3h3.4M312.1 306.6v3.4M312.6 307.1h3.4M314.3 305.4v3.4M273.5 303.3h3.4M275.2 301.6v3.4M290.9 306.9h3.4M292.6 305.2v3.4M275.3 297.9h3.4M277.0 296.2v3.4M308.4 298.3h3.4M310.1 296.6v3.4M273.8 297.9h3.4M275.5 296.2v3.4M296.6 308.2h3.4M298.3 306.5v3.4M287.2 306.5h3.4M288.9 304.8v3.4M309.7 305.1h3.4M311.4 303.4v3.4M299.3 308.4h3.4M301.0 306.7v3.4M306.0 304.9h3.4M307.7 303.2v3.4M297.8 303.0h3.4M299.5 301.3v3.4M253.3 303.4h3.4M255.0 301.7v3.4M275.0 296.3h3.4M276.7 294.6v3.4M291.3 305.8h3.4M293.0 304.1v3.4M248.9 303.6h3.4M250.6 301.9v3.4M256.6 300.0h3.4M258.3 298.3v3.4M306.4 293.4h3.4M308.1 291.7v3.4M295.4 306.0h3.4M297.1 304.3v3.4M276.2 298.0h3.4M277.9 296.3v3.4M306.3 307.7h3.4M308.0 306.0v3.4M258.9 302.1h3.4M260.6 300.4v3.4M288.7 300.3h3.4M290.4 298.6v3.4M289.3 298.3h3.4M291.0 296.6v3.4M298.6 304.1h3.4M300.3 302.4v3.4M292.6 298.1h3.4M294.3 296.4v3.4M272.5 298.2h3.4M274.2 296.5v3.4M313.0 307.6h3.4M314.7 305.9v3.4M301.2 304.1h3.4M302.9 302.4v3.4M268.8 306.6h3.4M270.5 304.9v3.4M277.5 305.8h3.4M279.2 304.1v3.4M285.6 313.0h3.4M287.3 311.3v3.4M308.2 296.1h3.4M309.9 294.4v3.4M309.4 302.3h3.4M311.1 300.6v3.4M262.5 299.9h3.4M264.2 298.2v3.4M270.3 301.5h3.4M272.0 299.8v3.4M294.5 309.0h3.4M296.2 307.3v3.4M251.4 296.5h3.4M253.1 294.8v3.4M253.8 298.0h3.4M255.5 296.3v3.4M257.6 302.1h3.4M259.3 300.4v3.4M300.0 307.4h3.4M301.7 305.7v3.4M285.0 306.2h3.4M286.7 304.5v3.4M272.8 297.6h3.4M274.5 295.9v3.4M272.7 298.9h3.4M274.4 297.2v3.4M285.1 302.4h3.4M286.8 300.7v3.4M249.4 298.6h3.4M251.1 296.9v3.4M312.3 300.9h3.4M314.0 299.2v3.4M288.4 303.8h3.4M290.1 302.1v3.4M251.0 302.5h3.4M252.7 300.8v3.4M291.4 303.2h3.4M293.1 301.5v3.4M256.9 294.3h3.4M258.6 292.6v3.4M303.3 297.2h3.4M305.0 295.5v3.4M294.5 305.6h3.4M296.2 303.9v3.4M314.9 298.4h3.4M316.6 296.7v3.4M312.5 292.7h3.4M314.2 291.0v3.4M314.3 305.7h3.4M316.0 304.0v3.4M277.0 304.1h3.4M278.7 302.4v3.4M280.2 296.8h3.4M281.9 295.1v3.4M292.9 298.5h3.4M294.6 296.8v3.4M306.0 310.1h3.4M307.7 308.4v3.4M272.8 298.6h3.4M274.5 296.9v3.4M300.7 297.6h3.4M302.4 295.9v3.4M265.9 301.3h3.4M267.6 299.6v3.4M285.0 300.0h3.4M286.7 298.3v3.4M307.2 297.2h3.4M308.9 295.5v3.4M302.2 308.4h3.4M303.9 306.7v3.4M310.0 306.4h3.4M311.7 304.7v3.4M297.6 304.8h3.4M299.3 303.1v3.4M276.3 304.5h3.4M278.0 302.8v3.4M294.9 306.7h3.4M296.6 305.0v3.4M283.3 298.3h3.4M285.0 296.6v3.4M271.6 296.5h3.4M273.3 294.8v3.4M263.3 297.3h3.4M265.0 295.6v3.4M272.8 295.1h3.4M274.5 293.4v3.4M305.9 298.9h3.4M307.6 297.2v3.4M304.3 303.5h3.4M306.0 301.8v3.4M289.3 301.7h3.4M291.0 300.0v3.4M295.0 309.4h3.4M296.7 307.7v3.4M287.6 299.9h3.4M289.3 298.2v3.4M295.6 300.4h3.4M297.3 298.7v3.4M262.9 296.9h3.4M264.6 295.2v3.4M297.0 302.2h3.4M298.7 300.5v3.4M299.6 308.0h3.4M301.3 306.3v3.4M297.2 308.6h3.4M298.9 306.9v3.4M250.9 297.5h3.4M252.6 295.8v3.4M293.7 307.0h3.4M295.4 305.3v3.4M273.6 297.4h3.4M275.3 295.7v3.4M301.7 304.9h3.4M303.4 303.2v3.4M286.0 306.7h3.4M287.7 305.0v3.4M271.5 298.1h3.4M273.2 296.4v3.4M252.3 301.5h3.4M254.0 299.8v3.4M311.7 293.8h3.4M313.4 292.1v3.4M307.2 302.3h3.4M308.9 300.6v3.4M295.4 303.0h3.4M297.1 301.3v3.4M265.4 296.0h3.4M267.1 294.3v3.4M296.4 300.5h3.4M298.1 298.8v3.4M271.0 297.7h3.4M272.7 296.0v3.4M286.8 303.1h3.4M288.5 301.4v3.4M316.2 300.8h3.4M317.9 299.1v3.4M292.4 299.6h3.4M294.1 297.9v3.4M310.7 305.7h3.4M312.4 304.0v3.4M304.3 310.0h3.4M306.0 308.3v3.4M263.8 323.5h3.4M265.5 321.8v3.4M297.1 308.9h3.4M298.8 307.2v3.4M257.3 324.5h3.4M259.0 322.8v3.4M272.5 330.7h3.4M274.2 329.0v3.4M295.4 312.7h3.4M297.1 311.0v3.4M275.7 305.4h3.4M277.4 303.7v3.4M288.8 305.6h3.4M290.5 303.9v3.4M301.6 322.1h3.4M303.3 320.4v3.4M284.9 327.2h3.4M286.6 325.5v3.4M285.9 301.9h3.4M287.6 300.2v3.4M278.2 307.2h3.4M279.9 305.5v3.4M303.4 306.9h3.4M305.1 305.2v3.4M278.4 308.1h3.4M280.1 306.4v3.4M290.2 323.4h3.4M291.9 321.7v3.4M265.0 313.6h3.4M266.7 311.9v3.4M255.9 301.2h3.4M257.6 299.5v3.4M301.1 301.2h3.4M302.8 299.5v3.4M270.0 321.0h3.4M271.7 319.3v3.4M272.4 330.5h3.4M274.1 328.8v3.4M302.6 304.9h3.4M304.3 303.2v3.4M301.4 316.5h3.4M303.1 314.8v3.4M298.8 309.7h3.4M300.5 308.0v3.4M311.9 315.6h3.4M313.6 313.9v3.4M297.0 303.2h3.4M298.7 301.5v3.4M279.0 329.9h3.4M280.7 328.2v3.4M252.9 302.6h3.4M254.6 300.9v3.4M307.4 321.1h3.4M309.1 319.4v3.4M284.7 318.6h3.4M286.4 316.9v3.4M314.0 319.0h3.4M315.7 317.3v3.4M311.7 308.4h3.4M313.4 306.7v3.4M303.7 313.4h3.4M305.4 311.7v3.4M277.8 314.9h3.4M279.5 313.2v3.4M267.4 319.8h3.4M269.1 318.1v3.4M251.7 309.9h3.4M253.4 308.2v3.4M273.6 325.1h3.4M275.3 323.4v3.4M296.2 326.9h3.4M297.9 325.2v3.4M280.7 313.1h3.4M282.4 311.4v3.4M266.3 317.2h3.4M268.0 315.5v3.4M257.5 303.2h3.4M259.2 301.5v3.4M297.1 332.2h3.4M298.8 330.5v3.4M261.8 303.2h3.4M263.5 301.5v3.4M287.3 314.9h3.4M289.0 313.2v3.4M278.6 334.4h3.4M280.3 332.7v3.4M308.1 331.2h3.4M309.8 329.5v3.4M277.6 310.0h3.4M279.3 308.3v3.4M267.0 309.7h3.4M268.7 308.0v3.4M282.4 313.2h3.4M284.1 311.5v3.4M254.9 316.2h3.4M256.6 314.5v3.4M254.4 310.3h3.4M256.1 308.6v3.4M307.4 323.5h3.4M309.1 321.8v3.4M256.4 303.2h3.4M258.1 301.5v3.4M294.2 304.8h3.4M295.9 303.1v3.4M267.8 300.8h3.4M269.5 299.1v3.4M292.6 308.4h3.4M294.3 306.7v3.4M269.3 336.0h3.4M271.0 334.3v3.4M309.3 311.2h3.4M311.0 309.5v3.4M278.6 314.0h3.4M280.3 312.3v3.4M287.4 321.4h3.4M289.1 319.7v3.4M282.7 318.5h3.4M284.4 316.8v3.4M273.8 317.3h3.4M275.5 315.6v3.4M306.6 305.7h3.4M308.3 304.0v3.4M302.5 333.3h3.4M304.2 331.6v3.4M268.2 317.4h3.4M269.9 315.7v3.4M298.8 331.9h3.4M300.5 330.2v3.4M264.7 333.5h3.4M266.4 331.8v3.4M294.8 327.9h3.4M296.5 326.2v3.4M309.8 300.8h3.4M311.5 299.1v3.4M285.2 330.2h3.4M286.9 328.5v3.4M299.7 307.3h3.4M301.4 305.6v3.4M290.0 333.1h3.4M291.7 331.4v3.4M302.7 314.8h3.4M304.4 313.1v3.4M267.6 304.6h3.4M269.3 302.9v3.4M256.5 309.8h3.4M258.2 308.1v3.4M285.8 313.5h3.4M287.5 311.8v3.4M308.4 331.0h3.4M310.1 329.3v3.4M295.7 300.6h3.4M297.4 298.9v3.4M291.9 310.2h3.4M293.6 308.5v3.4M294.3 309.3h3.4M296.0 307.6v3.4M275.9 335.3h3.4M277.6 333.6v3.4M269.5 316.6h3.4M271.2 314.9v3.4M296.4 336.3h3.4M298.1 334.6v3.4M260.3 325.5h3.4M262.0 323.8v3.4M273.1 304.4h3.4M274.8 302.7v3.4M273.6 328.6h3.4M275.3 326.9v3.4M276.7 326.9h3.4M278.4 325.2v3.4M255.1 307.2h3.4M256.8 305.5v3.4M270.9 313.0h3.4M272.6 311.3v3.4M280.2 336.0h3.4M281.9 334.3v3.4M277.3 304.4h3.4M279.0 302.7v3.4M280.7 318.9h3.4M282.4 317.2v3.4M279.5 310.4h3.4M281.2 308.7v3.4M305.3 328.5h3.4M307.0 326.8v3.4M281.7 306.9h3.4M283.4 305.2v3.4M258.7 319.7h3.4M260.4 318.0v3.4M307.4 317.8h3.4M309.1 316.1v3.4M293.5 306.8h3.4M295.2 305.1v3.4M260.8 330.7h3.4M262.5 329.0v3.4M265.3 305.0h3.4M267.0 303.3v3.4M266.6 315.8h3.4M268.3 314.1v3.4M267.8 319.6h3.4M269.5 317.9v3.4M279.8 311.7h3.4M281.5 310.0v3.4M305.4 324.2h3.4M307.1 322.5v3.4M269.9 306.6h3.4M271.6 304.9v3.4M250.2 311.3h3.4M251.9 309.6v3.4M283.1 312.9h3.4M284.8 311.2v3.4M291.9 333.7h3.4M293.6 332.0v3.4M278.8 302.9h3.4M280.5 301.2v3.4M313.3 316.8h3.4M315.0 315.1v3.4M257.8 301.4h3.4M259.5 299.7v3.4M263.0 302.6h3.4M264.7 300.9v3.4M287.5 329.9h3.4M289.2 328.2v3.4M268.1 317.7h3.4M269.8 316.0v3.4M311.5 308.6h3.4M313.2 306.9v3.4M269.3 327.9h3.4M271.0 326.2v3.4M270.6 313.4h3.4M272.3 311.7v3.4M283.2 313.9h3.4M284.9 312.2v3.4M267.9 319.9h3.4M269.6 318.2v3.4M261.4 308.6h3.4M263.1 306.9v3.4M271.8 312.7h3.4M273.5 311.0v3.4M299.8 319.4h3.4M301.5 317.7v3.4M309.3 325.9h3.4M311.0 324.2v3.4M315.4 305.7h3.4M317.1 304.0v3.4M251.9 312.4h3.4M253.6 310.7v3.4M287.8 314.1h3.4M289.5 312.4v3.4M287.5 316.6h3.4M289.2 314.9v3.4M294.8 315.0h3.4M296.5 313.3v3.4M310.8 318.9h3.4M312.5 317.2v3.4M272.7 301.6h3.4M274.4 299.9v3.4M258.3 307.8h3.4M260.0 306.1v3.4M294.5 307.5h3.4M296.2 305.8v3.4M300.0 323.6h3.4M301.7 321.9v3.4M304.7 302.4h3.4M306.4 300.7v3.4M294.1 309.6h3.4M295.8 307.9v3.4M312.6 322.5h3.4M314.3 320.8v3.4M270.4 308.2h3.4M272.1 306.5v3.4M269.3 326.9h3.4M271.0 325.2v3.4M306.0 331.9h3.4M307.7 330.2v3.4M258.7 315.5h3.4M260.4 313.8v3.4M274.2 319.7h3.4M275.9 318.0v3.4M300.7 312.8h3.4M302.4 311.1v3.4M289.6 336.4h3.4M291.3 334.7v3.4M292.4 334.9h3.4M294.1 333.2v3.4M273.8 311.9h3.4M275.5 310.2v3.4M283.5 304.0h3.4M285.2 302.3v3.4M265.2 300.3h3.4M266.9 298.6v3.4M294.5 310.9h3.4M296.2 309.2v3.4M277.8 331.3h3.4M279.5 329.6v3.4M282.7 309.9h3.4M284.4 308.2v3.4M285.8 303.9h3.4M287.5 302.2v3.4M268.4 300.1h3.4M270.1 298.4v3.4M308.2 314.1h3.4M309.9 312.4v3.4M278.3 312.0h3.4M280.0 310.3v3.4M282.4 304.0h3.4M284.1 302.3v3.4M305.7 324.0h3.4M307.4 322.3v3.4M261.8 315.7h3.4M263.5 314.0v3.4M303.5 336.5h3.4M305.2 334.8v3.4M281.1 312.7h3.4M282.8 311.0v3.4M307.9 322.5h3.4M309.6 320.8v3.4M287.5 307.0h3.4M289.2 305.3v3.4M292.0 300.9h3.4M293.7 299.2v3.4M287.6 301.5h3.4M289.3 299.8v3.4M284.7 307.3h3.4M286.4 305.6v3.4M273.3 334.2h3.4M275.0 332.5v3.4M276.6 334.9h3.4M278.3 333.2v3.4M251.7 315.5h3.4M253.4 313.8v3.4M296.5 315.8h3.4M298.2 314.1v3.4M276.2 322.9h3.4M277.9 321.2v3.4M307.8 317.4h3.4M309.5 315.7v3.4M310.9 320.7h3.4M312.6 319.0v3.4M269.3 317.1h3.4M271.0 315.4v3.4M259.9 306.6h3.4M261.6 304.9v3.4M280.5 315.1h3.4M282.2 313.4v3.4M278.7 308.7h3.4M280.4 307.0v3.4M297.4 308.9h3.4M299.1 307.2v3.4M251.4 310.2h3.4M253.1 308.5v3.4M308.9 305.1h3.4M310.6 303.4v3.4M309.3 316.9h3.4M311.0 315.2v3.4M310.9 320.6h3.4M312.6 318.9v3.4M293.3 322.8h3.4M295.0 321.1v3.4M260.2 302.4h3.4M261.9 300.7v3.4M300.7 317.8h3.4M302.4 316.1v3.4M282.0 320.0h3.4M283.7 318.3v3.4M314.1 300.3h3.4M315.8 298.6v3.4M303.2 325.9h3.4M304.9 324.2v3.4M297.1 319.3h3.4M298.8 317.6v3.4M265.3 319.4h3.4M267.0 317.7v3.4M271.1 302.2h3.4M272.8 300.5v3.4M304.4 331.8h3.4M306.1 330.1v3.4M307.3 311.5h3.4M309.0 309.8v3.4M288.8 318.1h3.4M290.5 316.4v3.4M252.3 302.1h3.4M254.0 300.4v3.4M255.1 318.8h3.4M256.8 317.1v3.4M273.7 335.5h3.4M275.4 333.8v3.4M276.8 318.9h3.4M278.5 317.2v3.4M263.5 328.1h3.4M265.2 326.4v3.4M257.5 303.5h3.4M259.2 301.8v3.4M275.4 321.5h3.4M277.1 319.8v3.4M296.6 315.5h3.4M298.3 313.8v3.4M306.8 312.6h3.4M308.5 310.9v3.4M265.5 308.3h3.4M267.2 306.6v3.4M296.6 336.1h3.4M298.3 334.4v3.4M308.4 312.5h3.4M310.1 310.8v3.4M307.5 301.5h3.4M309.2 299.8v3.4M260.6 311.9h3.4M262.3 310.2v3.4M264.9 312.6h3.4M266.6 310.9v3.4M272.3 329.2h3.4M274.0 327.5v3.4M300.4 311.6h3.4M302.1 309.9v3.4M271.5 316.4h3.4M273.2 314.7v3.4M271.1 314.7h3.4M272.8 313.0v3.4M259.8 328.3h3.4M261.5 326.6v3.4M258.5 321.1h3.4M260.2 319.4v3.4M292.2 313.7h3.4M293.9 312.0v3.4M259.7 327.4h3.4M261.4 325.7v3.4M294.0 323.5h3.4M295.7 321.8v3.4M262.8 300.7h3.4M264.5 299.0v3.4M274.0 308.0h3.4M275.7 306.3v3.4M306.8 317.5h3.4M308.5 315.8v3.4M272.3 321.9h3.4M274.0 320.2v3.4M264.7 313.8h3.4M266.4 312.1v3.4M279.3 312.4h3.4M281.0 310.7v3.4M312.5 301.7h3.4M314.2 300.0v3.4M260.1 318.5h3.4M261.8 316.8v3.4M288.1 321.2h3.4M289.8 319.5v3.4M308.0 324.7h3.4M309.7 323.0v3.4M271.0 302.0h3.4M272.7 300.3v3.4M287.5 311.1h3.4M289.2 309.4v3.4M301.0 310.4h3.4M302.7 308.7v3.4M277.2 310.3h3.4M278.9 308.6v3.4M284.0 321.1h3.4M285.7 319.4v3.4M286.1 303.5h3.4M287.8 301.8v3.4M290.5 301.4h3.4M292.2 299.7v3.4M306.8 308.6h3.4M308.5 306.9v3.4M300.1 300.4h3.4M301.8 298.7v3.4M288.3 315.9h3.4M290.0 314.2v3.4M272.3 307.8h3.4M274.0 306.1v3.4M307.6 302.4h3.4M309.3 300.7v3.4M281.0 316.2h3.4M282.7 314.5v3.4M256.6 310.8h3.4M258.3 309.1v3.4M299.1 328.3h3.4M300.8 326.6v3.4M309.9 307.1h3.4M311.6 305.4v3.4M291.1 334.6h3.4M292.8 332.9v3.4M297.8 325.5h3.4M299.5 323.8v3.4M292.8 323.7h3.4M294.5 322.0v3.4M272.1 314.4h3.4M273.8 312.7v3.4M258.1 317.8h3.4M259.8 316.1v3.4M262.8 302.8h3.4M264.5 301.1v3.4M298.5 307.1h3.4M300.2 305.4v3.4M279.1 304.0h3.4M280.8 302.3v3.4M314.7 313.8h3.4M316.4 312.1v3.4M266.4 321.1h3.4M268.1 319.4v3.4M287.9 327.6h3.4M289.6 325.9v3.4M308.0 327.4h3.4M309.7 325.7v3.4M308.8 309.1h3.4M310.5 307.4v3.4M292.3 320.1h3.4M294.0 318.4v3.4M269.9 321.2h3.4M271.6 319.5v3.4M278.0 302.3h3.4M279.7 300.6v3.4M298.3 326.1h3.4M300.0 324.4v3.4M264.1 318.4h3.4M265.8 316.7v3.4M306.5 302.4h3.4M308.2 300.7v3.4M273.2 310.8h3.4M274.9 309.1v3.4M285.2 325.8h3.4M286.9 324.1v3.4M262.0 320.8h3.4M263.7 319.1v3.4M293.5 317.5h3.4M295.2 315.8v3.4M307.4 332.7h3.4M309.1 331.0v3.4M309.5 322.1h3.4M311.2 320.4v3.4M311.7 312.2h3.4M313.4 310.5v3.4M309.2 322.6h3.4M310.9 320.9v3.4M306.3 315.0h3.4M308.0 313.3v3.4M261.7 312.3h3.4M263.4 310.6v3.4M297.5 327.3h3.4M299.2 325.6v3.4M290.3 306.6h3.4M292.0 304.9v3.4M260.3 329.2h3.4M262.0 327.5v3.4M275.3 316.4h3.4M277.0 314.7v3.4M308.6 309.2h3.4M310.3 307.5v3.4M288.8 307.9h3.4M290.5 306.2v3.4M286.0 328.0h3.4M287.7 326.3v3.4M303.9 332.9h3.4M305.6 331.2v3.4M251.4 306.4h3.4M253.1 304.7v3.4M315.2 308.8h3.4M316.9 307.1v3.4M313.6 303.5h3.4M315.3 301.8v3.4M272.2 318.3h3.4M273.9 316.6v3.4M281.4 332.7h3.4M283.1 331.0v3.4M315.2 302.7h3.4M316.9 301.0v3.4M264.8 322.5h3.4M266.5 320.8v3.4M271.8 318.0h3.4M273.5 316.3v3.4M291.3 313.9h3.4M293.0 312.2v3.4M303.6 312.6h3.4M305.3 310.9v3.4M261.7 303.2h3.4M263.4 301.5v3.4M312.8 303.7h3.4M314.5 302.0v3.4M311.9 307.3h3.4M313.6 305.6v3.4M278.4 325.5h3.4M280.1 323.8v3.4M293.2 330.3h3.4M294.9 328.6v3.4M266.2 344.1h3.4M267.9 342.4v3.4M276.8 337.4h3.4M278.5 335.7v3.4M301.4 319.0h3.4M303.1 317.3v3.4M297.2 333.3h3.4M298.9 331.6v3.4M272.3 337.9h3.4M274.0 336.2v3.4M276.7 327.5h3.4M278.4 325.8v3.4M289.3 330.5h3.4M291.0 328.8v3.4M306.5 321.4h3.4M308.2 319.7v3.4M300.2 330.6h3.4M301.9 328.9v3.4M279.8 326.4h3.4M281.5 324.7v3.4M308.1 325.9h3.4M309.8 324.2v3.4M290.2 325.1h3.4M291.9 323.4v3.4M270.8 328.3h3.4M272.5 326.6v3.4M287.6 319.0h3.4M289.3 317.3v3.4M282.9 343.8h3.4M284.6 342.1v3.4M275.1 332.0h3.4M276.8 330.3v3.4M276.9 320.2h3.4M278.6 318.5v3.4M281.5 331.2h3.4M283.2 329.5v3.4M289.0 327.5h3.4M290.7 325.8v3.4M294.0 333.1h3.4M295.7 331.4v3.4M274.0 325.3h3.4M275.7 323.6v3.4M287.3 317.4h3.4M289.0 315.7v3.4M274.4 330.8h3.4M276.1 329.1v3.4M280.8 325.3h3.4M282.5 323.6v3.4M287.0 331.9h3.4M288.7 330.2v3.4M303.2 324.9h3.4M304.9 323.2v3.4M264.7 326.7h3.4M266.4 325.0v3.4M269.4 326.0h3.4M271.1 324.3v3.4M278.8 333.8h3.4M280.5 332.1v3.4M306.2 330.2h3.4M307.9 328.5v3.4M293.2 322.5h3.4M294.9 320.8v3.4M286.5 332.0h3.4M288.2 330.3v3.4M262.6 318.4h3.4M264.3 316.7v3.4M300.8 326.2h3.4M302.5 324.5v3.4M302.5 322.6h3.4M304.2 320.9v3.4M292.4 341.3h3.4M294.1 339.6v3.4M273.4 343.6h3.4M275.1 341.9v3.4M272.6 332.4h3.4M274.3 330.7v3.4M299.5 323.5h3.4M301.2 321.8v3.4M295.1 325.1h3.4M296.8 323.4v3.4M295.3 324.9h3.4M297.0 323.2v3.4M265.8 340.6h3.4M267.5 338.9v3.4M273.9 320.6h3.4M275.6 318.9v3.4M287.0 326.1h3.4M288.7 324.4v3.4M267.3 319.0h3.4M269.0 317.3v3.4M260.1 327.0h3.4M261.8 325.3v3.4M270.1 326.7h3.4M271.8 325.0v3.4M292.8 336.8h3.4M294.5 335.1v3.4M306.8 324.7h3.4M308.5 323.0v3.4M309.8 321.7h3.4M311.5 320.0v3.4M286.2 325.0h3.4M287.9 323.3v3.4M274.6 326.0h3.4M276.3 324.3v3.4M273.6 324.2h3.4M275.3 322.5v3.4M265.5 328.4h3.4M267.2 326.7v3.4M302.9 330.4h3.4M304.6 328.7v3.4M290.0 322.2h3.4M291.7 320.5v3.4M288.0 320.2h3.4M289.7 318.5v3.4M263.5 329.4h3.4M265.2 327.7v3.4M279.8 318.3h3.4M281.5 316.6v3.4M300.8 334.6h3.4M302.5 332.9v3.4M280.3 325.9h3.4M282.0 324.2v3.4M299.9 323.2h3.4M301.6 321.5v3.4M266.6 336.2h3.4M268.3 334.5v3.4M266.9 327.8h3.4M268.6 326.1v3.4M261.9 325.8h3.4M263.6 324.1v3.4M267.6 327.6h3.4M269.3 325.9v3.4M306.7 324.2h3.4M308.4 322.5v3.4M278.9 334.3h3.4M280.6 332.6v3.4M306.0 327.3h3.4M307.7 325.6v3.4M292.7 331.3h3.4M294.4 329.6v3.4M284.7 325.7h3.4M286.4 324.0v3.4M262.7 320.4h3.4M264.4 318.7v3.4M304.2 319.3h3.4M305.9 317.6v3.4M271.4 339.0h3.4M273.1 337.3v3.4M300.1 326.5h3.4M301.8 324.8v3.4M278.3 323.8h3.4M280.0 322.1v3.4M278.0 344.0h3.4M279.7 342.3v3.4M261.3 333.5h3.4M263.0 331.8v3.4M264.4 327.2h3.4M266.1 325.5v3.4M276.1 331.6h3.4M277.8 329.9v3.4M275.4 322.0h3.4M277.1 320.3v3.4M265.7 319.5h3.4M267.4 317.8v3.4M258.5 321.0h3.4M260.2 319.3v3.4M276.6 318.1h3.4M278.3 316.4v3.4M300.9 316.6h3.4M302.6 314.9v3.4M305.6 331.8h3.4M307.3 330.1v3.4M278.4 323.5h3.4M280.1 321.8v3.4M294.6 322.1h3.4M296.3 320.4v3.4M273.3 335.6h3.4M275.0 333.9v3.4M269.6 333.9h3.4M271.3 332.2v3.4M278.5 321.8h3.4M280.2 320.1v3.4M293.1 316.7h3.4M294.8 315.0v3.4M293.2 314.7h3.4M294.9 313.0v3.4M289.5 309.2h3.4M291.2 307.5v3.4M287.3 300.0h3.4M289.0 298.3v3.4M306.0 302.0h3.4M307.7 300.3v3.4M281.7 303.8h3.4M283.4 302.1v3.4M289.9 309.9h3.4M291.6 308.2v3.4M304.3 319.1h3.4M306.0 317.4v3.4M298.1 310.5h3.4M299.8 308.8v3.4M294.6 317.8h3.4M296.3 316.1v3.4M312.0 311.0h3.4M313.7 309.3v3.4M290.5 301.1h3.4M292.2 299.4v3.4M301.8 311.4h3.4M303.5 309.7v3.4M312.1 315.1h3.4M313.8 313.4v3.4M289.8 305.6h3.4M291.5 303.9v3.4M309.9 304.5h3.4M311.6 302.8v3.4M300.7 302.7h3.4M302.4 301.0v3.4M296.3 303.7h3.4M298.0 302.0v3.4M288.6 314.5h3.4M290.3 312.8v3.4M290.3 314.7h3.4M292.0 313.0v3.4M298.7 307.1h3.4M300.4 305.4v3.4M303.7 312.4h3.4M305.4 310.7v3.4M315.2 304.3h3.4M316.9 302.6v3.4M302.3 304.5h3.4M304.0 302.8v3.4M298.0 319.2h3.4M299.7 317.5v3.4M312.5 317.3h3.4M314.2 315.6v3.4M304.2 312.4h3.4M305.9 310.7v3.4M293.7 309.8h3.4M295.4 308.1v3.4M283.9 306.4h3.4M285.6 304.7v3.4M280.2 300.7h3.4M281.9 299.0v3.4M292.9 312.9h3.4M294.6 311.2v3.4M308.7 301.6h3.4M310.4 299.9v3.4M286.6 308.0h3.4M288.3 306.3v3.4M308.6 300.4h3.4M310.3 298.7v3.4M310.1 308.2h3.4M311.8 306.5v3.4M301.9 309.6h3.4M303.6 307.9v3.4M289.7 305.1h3.4M291.4 303.4v3.4M313.5 302.7h3.4M315.2 301.0v3.4M313.6 306.6h3.4M315.3 304.9v3.4M306.3 308.9h3.4M308.0 307.2v3.4" stroke="#e80000" stroke-width="1.3" fill="none"/>
<path d="M312.7 288.8h3.4M314.4 287.1v3.4M324.3 267.1h3.4M326.0 265.4v3.4M335.3 245.8h3.4M337.0 244.1v3.4M333.1 258.6h3.4M334.8 256.9v3.4M325.8 291.3h3.4M327.5 289.6v3.4M317.8 287.9h3.4M319.5 286.2v3.4M319.6 267.2h3.4M321.3 265.5v3.4M336.1 258.0h3.4M337.8 256.3v3.4M324.1 285.0h3.4M325.8 283.3v3.4M320.9 273.7h3.4M322.6 272.0v3.4M326.3 257.1h3.4M328.0 255.4v3.4M314.8 288.5h3.4M316.5 286.8v3.4M334.8 251.2h3.4M336.5 249.5v3.4M318.9 284.1h3.4M320.6 282.4v3.4M319.7 299.1h3.4M321.4 297.4v3.4M326.9 255.6h3.4M328.6 253.9v3.4M334.6 244.5h3.4M336.3 242.8v3.4M327.9 260.5h3.4M329.6 258.8v3.4M330.7 250.1h3.4M332.4 248.4v3.4M319.5 261.4h3.4M321.2 259.7v3.4M312.5 296.2h3.4M314.2 294.5v3.4M330.1 260.9h3.4M331.8 259.2v3.4M324.1 295.0h3.4M325.8 293.3v3.4M329.1 258.9h3.4M330.8 257.2v3.4M333.2 265.1h3.4M334.9 263.4v3.4M327.3 255.2h3.4M329.0 253.5v3.4M318.8 288.2h3.4M320.5 286.5v3.4M312.6 298.0h3.4M314.3 296.3v3.4M334.3 178.1h3.4M336.0 176.4v3.4M305.1 244.2h3.4M306.8 242.5v3.4M282.3 276.9h3.4M284.0 275.2v3.4M337.9 175.9h3.4M339.6 174.2v3.4M330.8 196.7h3.4M332.5 195.0v3.4M284.9 271.7h3.4M286.6 270.0v3.4M294.0 268.8h3.4M295.7 267.1v3.4M315.5 232.8h3.4M317.2 231.1v3.4M266.9 290.1h3.4M268.6 288.4v3.4M327.4 193.9h3.4M329.1 192.2v3.4M259.5 293.6h3.4M261.2 291.9v3.4M280.3 281.9h3.4M282.0 280.2v3.4M287.4 271.6h3.4M289.1 269.9v3.4M322.4 220.5h3.4M324.1 218.8v3.4M297.8 259.6h3.4M299.5 257.9v3.4M277.4 280.4h3.4M279.1 278.7v3.4M272.5 285.8h3.4M274.2 284.1v3.4M323.2 217.5h3.4M324.9 215.8v3.4M349.1 157.6h3.4M350.8 155.9v3.4M290.1 268.8h3.4M291.8 267.1v3.4M320.5 220.4h3.4M322.2 218.7v3.4M327.6 192.9h3.4M329.3 191.2v3.4M346.3 159.1h3.4M348.0 157.4v3.4M260.2 294.0h3.4M261.9 292.3v3.4M323.7 206.9h3.4M325.4 205.2v3.4M300.0 250.3h3.4M301.7 248.6v3.4M306.5 244.0h3.4M308.2 242.3v3.4M287.0 273.1h3.4M288.7 271.4v3.4M320.4 230.3h3.4M322.1 228.6v3.4M329.9 197.6h3.4M331.6 195.9v3.4M263.7 295.4h3.4M265.4 293.7v3.4M295.4 259.7h3.4M297.1 258.0v3.4M287.6 273.6h3.4M289.3 271.9v3.4M276.4 278.8h3.4M278.1 277.1v3.4M327.4 199.7h3.4M329.1 198.0v3.4M296.3 256.7h3.4M298.0 255.0v3.4M313.5 233.0h3.4M315.2 231.3v3.4M322.1 213.6h3.4M323.8 211.9v3.4M308.0 244.2h3.4M309.7 242.5v3.4M312.1 239.7h3.4M313.8 238.0v3.4M321.3 223.1h3.4M323.0 221.4v3.4M308.4 238.1h3.4M310.1 236.4v3.4M387.0 144.1h3.4M388.7 142.4v3.4M370.8 161.3h3.4M372.5 159.6v3.4M370.0 144.1h3.4M371.7 142.4v3.4M374.9 154.8h3.4M376.6 153.1v3.4M359.4 154.0h3.4M361.1 152.3v3.4M359.7 134.9h3.4M361.4 133.2v3.4M362.6 148.5h3.4M364.3 146.8v3.4M373.9 138.9h3.4M375.6 137.2v3.4M359.8 155.8h3.4M361.5 154.1v3.4M364.7 131.6h3.4M366.4 129.9v3.4M366.9 154.4h3.4M368.6 152.7v3.4M375.9 140.6h3.4M377.6 138.9v3.4M373.3 138.8h3.4M375.0 137.1v3.4M369.4 157.5h3.4M371.1 155.8v3.4M379.4 147.2h3.4M381.1 145.5v3.4M374.9 140.3h3.4M376.6 138.6v3.4M367.6 158.4h3.4M369.3 156.7v3.4M388.6 143.8h3.4M390.3 142.1v3.4M377.5 134.8h3.4M379.2 133.1v3.4M354.2 147.3h3.4M355.9 145.6v3.4M372.6 134.9h3.4M374.3 133.2v3.4M358.7 136.8h3.4M360.4 135.1v3.4M369.4 156.1h3.4M371.1 154.4v3.4M365.4 140.6h3.4M367.1 138.9v3.4M351.5 154.2h3.4M353.2 152.5v3.4M363.1 131.5h3.4M364.8 129.8v3.4M382.9 147.9h3.4M384.6 146.2v3.4M365.4 130.4h3.4M367.1 128.7v3.4M353.4 145.1h3.4M355.1 143.4v3.4M381.1 152.8h3.4M382.8 151.1v3.4M382.6 140.6h3.4M384.3 138.9v3.4M352.9 152.7h3.4M354.6 151.0v3.4M357.9 147.1h3.4M359.6 145.4v3.4M381.3 146.3h3.4M383.0 144.6v3.4M369.2 155.8h3.4M370.9 154.1v3.4M351.6 156.6h3.4M353.3 154.9v3.4M362.2 152.3h3.4M363.9 150.6v3.4M375.8 156.3h3.4M377.5 154.6v3.4M347.6 157.2h3.4M349.3 155.5v3.4M339.0 156.1h3.4M340.7 154.4v3.4M369.9 148.9h3.4M371.6 147.2v3.4M335.5 162.3h3.4M337.2 160.6v3.4M366.5 144.1h3.4M368.2 142.4v3.4M377.0 153.8h3.4M378.7 152.1v3.4M365.2 140.4h3.4M366.9 138.7v3.4M364.0 149.1h3.4M365.7 147.4v3.4M370.0 152.6h3.4M371.7 150.9v3.4M365.7 159.3h3.4M367.4 157.6v3.4M360.4 153.7h3.4M362.1 152.0v3.4M347.6 146.6h3.4M349.3 144.9v3.4M336.2 161.8h3.4M337.9 160.1v3.4M348.8 162.4h3.4M350.5 160.7v3.4M349.6 137.3h3.4M351.3 135.6v3.4M359.3 155.9h3.4M361.0 154.2v3.4M351.7 155.2h3.4M353.4 153.5v3.4M352.0 143.2h3.4M353.7 141.5v3.4M333.7 158.9h3.4M335.4 157.2v3.4M356.6 159.4h3.4M358.3 157.7v3.4M363.7 159.0h3.4M365.4 157.3v3.4M359.2 163.0h3.4M360.9 161.3v3.4M341.6 146.1h3.4M343.3 144.4v3.4M348.4 150.7h3.4M350.1 149.0v3.4M355.3 141.4h3.4M357.0 139.7v3.4M374.1 157.6h3.4M375.8 155.9v3.4M338.4 149.6h3.4M340.1 147.9v3.4M363.0 139.2h3.4M364.7 137.5v3.4M353.5 135.5h3.4M355.2 133.8v3.4M333.3 153.0h3.4M335.0 151.3v3.4M355.3 163.7h3.4M357.0 162.0v3.4M332.9 164.5h3.4M334.6 162.8v3.4M364.1 151.3h3.4M365.8 149.6v3.4M337.6 138.3h3.4M339.3 136.6v3.4M354.8 163.7h3.4M356.5 162.0v3.4M347.1 160.9h3.4M348.8 159.2v3.4M289.1 330.0h3.4M290.8 328.3v3.4M255.3 320.8h3.4M257.0 319.1v3.4M264.2 300.0h3.4M265.9 298.3v3.4M306.7 329.8h3.4M308.4 328.1v3.4M271.1 327.1h3.4M272.8 325.4v3.4M309.6 306.6h3.4M311.3 304.9v3.4M262.8 331.1h3.4M264.5 329.4v3.4M289.4 303.3h3.4M291.1 301.6v3.4M285.1 315.4h3.4M286.8 313.7v3.4M286.6 336.5h3.4M288.3 334.8v3.4M289.9 332.6h3.4M291.6 330.9v3.4M295.3 319.1h3.4M297.0 317.4v3.4M307.2 331.2h3.4M308.9 329.5v3.4M285.7 308.8h3.4M287.4 307.1v3.4M282.7 309.3h3.4M284.4 307.6v3.4M275.5 324.4h3.4M277.2 322.7v3.4M279.5 308.5h3.4M281.2 306.8v3.4M259.3 326.9h3.4M261.0 325.2v3.4M282.9 304.3h3.4M284.6 302.6v3.4M270.6 314.6h3.4M272.3 312.9v3.4M304.9 332.0h3.4M306.6 330.3v3.4M310.8 323.8h3.4M312.5 322.1v3.4M259.2 314.0h3.4M260.9 312.3v3.4M262.3 305.3h3.4M264.0 303.6v3.4M303.0 336.7h3.4M304.7 335.0v3.4M300.8 311.2h3.4M302.5 309.5v3.4M305.2 320.5h3.4M306.9 318.8v3.4M299.6 332.8h3.4M301.3 331.1v3.4M261.3 307.6h3.4M263.0 305.9v3.4M290.0 304.4h3.4M291.7 302.7v3.4M275.0 305.4h3.4M276.7 303.7v3.4M283.0 310.9h3.4M284.7 309.2v3.4M293.6 302.9h3.4M295.3 301.2v3.4M295.1 300.3h3.4M296.8 298.6v3.4M252.9 311.9h3.4M254.6 310.2v3.4M295.6 331.5h3.4M297.3 329.8v3.4M289.8 307.2h3.4M291.5 305.5v3.4M252.2 309.5h3.4M253.9 307.8v3.4M273.0 301.1h3.4M274.7 299.4v3.4M297.7 335.2h3.4M299.4 333.5v3.4M263.7 329.7h3.4M265.4 328.0v3.4M263.0 325.0h3.4M264.7 323.3v3.4M289.9 307.7h3.4M291.6 306.0v3.4M288.1 317.4h3.4M289.8 315.7v3.4M302.1 319.5h3.4M303.8 317.8v3.4M287.2 305.4h3.4M288.9 303.7v3.4M287.3 319.3h3.4M289.0 317.6v3.4M289.5 332.8h3.4M291.2 331.1v3.4M274.1 319.5h3.4M275.8 317.8v3.4M314.1 302.6h3.4M315.8 300.9v3.4M260.8 323.3h3.4M262.5 321.6v3.4M280.0 334.3h3.4M281.7 332.6v3.4M253.2 307.8h3.4M254.9 306.1v3.4M305.7 316.8h3.4M307.4 315.1v3.4M294.4 331.4h3.4M296.1 329.7v3.4M271.3 330.6h3.4M273.0 328.9v3.4M280.2 310.3h3.4M281.9 308.6v3.4" stroke="#000" stroke-width="1.3" fill="none"/>
<rect x="97.0" y="9.2" width="487.0" height="402.5" fill="none" stroke="#000" stroke-width="1.9"/>
<path d="M97.00 411.70V403.65M97.00 9.20V17.25M121.35 411.70V407.68M121.35 9.20V13.22M145.70 411.70V407.68M145.70 9.20V13.22M170.05 411.70V407.68M170.05 9.20V13.22M194.40 411.70V407.68M194.40 9.20V13.22M218.75 411.70V403.65M218.75 9.20V17.25M243.10 411.70V407.68M243.10 9.20V13.22M267.45 411.70V407.68M267.45 9.20V13.22M291.80 411.70V407.68M291.80 9.20V13.22M316.15 411.70V407.68M316.15 9.20V13.22M340.50 411.70V403.65M340.50 9.20V17.25M364.85 411.70V407.68M364.85 9.20V13.22M389.20 411.70V407.68M389.20 9.20V13.22M413.55 411.70V407.68M413.55 9.20V13.22M437.90 411.70V407.68M437.90 9.20V13.22M462.25 411.70V403.65M462.25 9.20V17.25M486.60 411.70V407.68M486.60 9.20V13.22M510.95 411.70V407.68M510.95 9.20V13.22M535.30 411.70V407.68M535.30 9.20V13.22M559.65 411.70V407.68M559.65 9.20V13.22M584.00 411.70V403.65M584.00 9.20V17.25M97.00 411.70H106.74M584.00 411.70H574.26M97.00 401.64H101.87M584.00 401.64H579.13M97.00 391.57H101.87M584.00 391.57H579.13M97.00 381.51H101.87M584.00 381.51H579.13M97.00 371.45H101.87M584.00 371.45H579.13M97.00 361.39H101.87M584.00 361.39H579.13M97.00 351.32H101.87M584.00 351.32H579.13M97.00 341.26H101.87M584.00 341.26H579.13M97.00 331.20H101.87M584.00 331.20H579.13M97.00 321.14H101.87M584.00 321.14H579.13M97.00 311.07H106.74M584.00 311.07H574.26M97.00 301.01H101.87M584.00 301.01H579.13M97.00 290.95H101.87M584.00 290.95H579.13M97.00 280.89H101.87M584.00 280.89H579.13M97.00 270.82H101.87M584.00 270.82H579.13M97.00 260.76H101.87M584.00 260.76H579.13M97.00 250.70H101.87M584.00 250.70H579.13M97.00 240.64H101.87M584.00 240.64H579.13M97.00 230.58H101.87M584.00 230.58H579.13M97.00 220.51H101.87M584.00 220.51H579.13M97.00 210.45H106.74M584.00 210.45H574.26M97.00 200.39H101.87M584.00 200.39H579.13M97.00 190.32H101.87M584.00 190.32H579.13M97.00 180.26H101.87M584.00 180.26H579.13M97.00 170.20H101.87M584.00 170.20H579.13M97.00 160.14H101.87M584.00 160.14H579.13M97.00 150.07H101.87M584.00 150.07H579.13M97.00 140.01H101.87M584.00 140.01H579.13M97.00 129.95H101.87M584.00 129.95H579.13M97.00 119.89H101.87M584.00 119.89H579.13M97.00 109.83H106.74M584.00 109.83H574.26M97.00 99.76H101.87M584.00 99.76H579.13M97.00 89.70H101.87M584.00 89.70H579.13M97.00 79.64H101.87M584.00 79.64H579.13M97.00 69.58H101.87M584.00 69.58H579.13M97.00 59.51H101.87M584.00 59.51H579.13M97.00 49.45H101.87M584.00 49.45H579.13M97.00 39.39H101.87M584.00 39.39H579.13M97.00 29.32H101.87M584.00 29.32H579.13M97.00 19.26H101.87M584.00 19.26H579.13M97.00 9.20H106.74M584.00 9.20H574.26" stroke="#000" stroke-width="1.7" fill="none"/>
<path d="M68.60 119.30H64.10V105.10H59.10V102.60C61.80 102.50 63.50 101.10 64.20 99.30H68.60ZM68.20 320.80H63.70V306.60H58.70V304.10C61.40 304.00 63.10 302.60 63.80 300.80H68.20ZM96.89 448.40H92.39V434.20H87.39V431.70C90.09 431.60 91.80 430.20 92.49 428.40H96.89ZM579.15 448.40H574.65V434.20H569.65V431.70C572.35 431.60 574.05 430.20 574.75 428.40H579.15Z" fill="#000"/>
<g font-size="28.5">
<g text-anchor="end">
<text transform="translate(89.3 25.4) scale(1 1.06)">20</text>
<text transform="translate(89.3 119.3) scale(1 1.06)"><tspan style="fill:none;stroke:none">1</tspan>0</text>
<text transform="translate(89.3 220.3) scale(1 1.06)">0</text>
<text transform="translate(88.9 320.8) scale(1 1.06)">-<tspan style="fill:none;stroke:none">1</tspan>0</text>
<text transform="translate(88.9 411.5) scale(1 1.06)">-20</text>
</g>
<g transform="translate(0 448.4) scale(1 1.05)" text-anchor="middle">
<text x="97.00">-<tspan style="fill:none;stroke:none">1</tspan>0</text>
<text x="218.75">-5</text>
<text x="340.50">0</text>
<text x="462.25">5</text>
<text x="584.00"><tspan style="fill:none;stroke:none">1</tspan>0</text>
</g>
<g transform="translate(205 478.7) scale(1 1.05)">
<text x="0">Velocity (</text>
<text x="128" style="font-family:'Liberation Serif',serif;font-weight:normal;stroke:none">&#916;&#955;</text>
<text x="162">=50 pm)</text>
</g>
<text transform="translate(24.8 309.8) rotate(-90)">Velocity (EFM)</text>
</g>
</svg>
</body></html>
